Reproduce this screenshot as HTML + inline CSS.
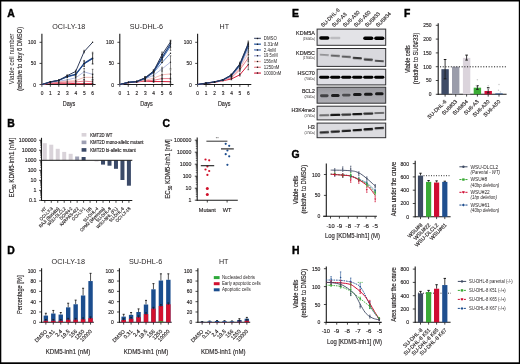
<!DOCTYPE html><html><head><meta charset="utf-8"><style>html,body{margin:0;padding:0;background:#fff;overflow:hidden}svg{display:block;will-change:transform;filter:blur(0.4px)}text{stroke:#231f20;stroke-width:0.15px;font-family:"Liberation Sans", sans-serif}.ns{stroke:none}</style></head><body>
<svg width="520" height="364" viewBox="0 0 520 364" fill="#231f20">
<defs><filter id="bl" x="-50%" y="-100%" width="200%" height="300%"><feGaussianBlur stdDeviation="0.45"/></filter><linearGradient id="gb" x1="0" y1="0" x2="0" y2="1"><stop offset="0" stop-color="#98989e"/><stop offset="0.45" stop-color="#a6a6ac"/><stop offset="1" stop-color="#aeaeb4"/></linearGradient></defs>
<rect x="0" y="0" width="520" height="364" fill="#fff"/>
<text x="7.3" y="16.9" font-size="10.4" font-weight="bold" fill="#000" style="stroke:#000;stroke-width:0.4px">A</text>
<text x="52.2" y="28.86" font-size="8" textLength="33" lengthAdjust="spacingAndGlyphs" class="ns">OCI-LY-18</text>
<line x1="41.9" y1="33.8" x2="41.9" y2="85" stroke="#1a1a1a" stroke-width="1.1"/>
<line x1="41.4" y1="84.5" x2="95.6" y2="84.5" stroke="#1a1a1a" stroke-width="1.1"/>
<line x1="39.5" y1="84.5" x2="41.9" y2="84.5" stroke="#1a1a1a" stroke-width="0.8"/>
<text x="36.1" y="86.5" font-size="5.8" text-anchor="end" textLength="2.8" lengthAdjust="spacingAndGlyphs">0</text>
<line x1="39.5" y1="63.4" x2="41.9" y2="63.4" stroke="#1a1a1a" stroke-width="0.8"/>
<text x="36.1" y="65.4" font-size="5.8" text-anchor="end" textLength="5.3" lengthAdjust="spacingAndGlyphs">50</text>
<line x1="39.5" y1="42.3" x2="41.9" y2="42.3" stroke="#1a1a1a" stroke-width="0.8"/>
<text x="36.1" y="44.3" font-size="5.8" text-anchor="end" textLength="8" lengthAdjust="spacingAndGlyphs">100</text>
<line x1="41.9" y1="84.5" x2="41.9" y2="86.8" stroke="#1a1a1a" stroke-width="0.8"/>
<text x="42" y="95.35" font-size="5.8" text-anchor="middle" textLength="2.7" lengthAdjust="spacingAndGlyphs">0</text>
<line x1="50.35" y1="84.5" x2="50.35" y2="86.8" stroke="#1a1a1a" stroke-width="0.8"/>
<text x="50.45" y="95.35" font-size="5.8" text-anchor="middle" textLength="2.7" lengthAdjust="spacingAndGlyphs">1</text>
<line x1="58.8" y1="84.5" x2="58.8" y2="86.8" stroke="#1a1a1a" stroke-width="0.8"/>
<text x="58.9" y="95.35" font-size="5.8" text-anchor="middle" textLength="2.7" lengthAdjust="spacingAndGlyphs">2</text>
<line x1="67.25" y1="84.5" x2="67.25" y2="86.8" stroke="#1a1a1a" stroke-width="0.8"/>
<text x="67.35" y="95.35" font-size="5.8" text-anchor="middle" textLength="2.7" lengthAdjust="spacingAndGlyphs">3</text>
<line x1="75.7" y1="84.5" x2="75.7" y2="86.8" stroke="#1a1a1a" stroke-width="0.8"/>
<text x="75.8" y="95.35" font-size="5.8" text-anchor="middle" textLength="2.7" lengthAdjust="spacingAndGlyphs">4</text>
<line x1="84.15" y1="84.5" x2="84.15" y2="86.8" stroke="#1a1a1a" stroke-width="0.8"/>
<text x="84.25" y="95.35" font-size="5.8" text-anchor="middle" textLength="2.7" lengthAdjust="spacingAndGlyphs">5</text>
<line x1="92.6" y1="84.5" x2="92.6" y2="86.8" stroke="#1a1a1a" stroke-width="0.8"/>
<text x="92.7" y="95.35" font-size="5.8" text-anchor="middle" textLength="2.7" lengthAdjust="spacingAndGlyphs">6</text>
<text x="69.05" y="105.5" font-size="7.4" text-anchor="middle" textLength="12.5" lengthAdjust="spacingAndGlyphs">Days</text>
<line x1="84.15" y1="82.81" x2="84.15" y2="84.5" stroke="#222" stroke-width="0.55"/>
<line x1="83.35" y1="82.81" x2="84.95" y2="82.81" stroke="#222" stroke-width="0.6"/>
<line x1="83.35" y1="84.5" x2="84.95" y2="84.5" stroke="#222" stroke-width="0.6"/>
<line x1="92.6" y1="82.81" x2="92.6" y2="84.5" stroke="#222" stroke-width="0.55"/>
<line x1="91.8" y1="82.81" x2="93.4" y2="82.81" stroke="#222" stroke-width="0.6"/>
<line x1="91.8" y1="84.5" x2="93.4" y2="84.5" stroke="#222" stroke-width="0.6"/>
<polyline points="41.9,84.5 50.35,83.23 58.8,83.23 67.25,83.23 75.7,83.66 84.15,83.66 92.6,83.66" fill="none" stroke="#d4112f" stroke-width="0.95" stroke-linejoin="round"/>
<circle cx="50.35" cy="83.23" r="0.7" fill="#151515"/>
<circle cx="58.8" cy="83.23" r="0.7" fill="#151515"/>
<circle cx="67.25" cy="83.23" r="0.7" fill="#151515"/>
<circle cx="75.7" cy="83.66" r="0.7" fill="#151515"/>
<circle cx="84.15" cy="83.66" r="0.7" fill="#151515"/>
<circle cx="92.6" cy="83.66" r="0.7" fill="#151515"/>
<line x1="75.7" y1="81.12" x2="75.7" y2="82.81" stroke="#222" stroke-width="0.55"/>
<line x1="74.9" y1="81.12" x2="76.5" y2="81.12" stroke="#222" stroke-width="0.6"/>
<line x1="74.9" y1="82.81" x2="76.5" y2="82.81" stroke="#222" stroke-width="0.6"/>
<line x1="84.15" y1="79.44" x2="84.15" y2="82.81" stroke="#222" stroke-width="0.55"/>
<line x1="83.35" y1="79.44" x2="84.95" y2="79.44" stroke="#222" stroke-width="0.6"/>
<line x1="83.35" y1="82.81" x2="84.95" y2="82.81" stroke="#222" stroke-width="0.6"/>
<line x1="92.6" y1="79.69" x2="92.6" y2="83.91" stroke="#222" stroke-width="0.55"/>
<line x1="91.8" y1="79.69" x2="93.4" y2="79.69" stroke="#222" stroke-width="0.6"/>
<line x1="91.8" y1="83.91" x2="93.4" y2="83.91" stroke="#222" stroke-width="0.6"/>
<polyline points="41.9,84.5 50.35,82.81 58.8,82.39 67.25,81.97 75.7,81.97 84.15,81.12 92.6,81.8" fill="none" stroke="#e4687a" stroke-width="0.85" stroke-linejoin="round"/>
<circle cx="50.35" cy="82.81" r="0.7" fill="#151515"/>
<circle cx="58.8" cy="82.39" r="0.7" fill="#151515"/>
<circle cx="67.25" cy="81.97" r="0.7" fill="#151515"/>
<circle cx="75.7" cy="81.97" r="0.7" fill="#151515"/>
<circle cx="84.15" cy="81.12" r="0.7" fill="#151515"/>
<circle cx="92.6" cy="81.8" r="0.7" fill="#151515"/>
<line x1="75.7" y1="79.86" x2="75.7" y2="81.55" stroke="#222" stroke-width="0.55"/>
<line x1="74.9" y1="79.86" x2="76.5" y2="79.86" stroke="#222" stroke-width="0.6"/>
<line x1="74.9" y1="81.55" x2="76.5" y2="81.55" stroke="#222" stroke-width="0.6"/>
<line x1="84.15" y1="74.79" x2="84.15" y2="79.86" stroke="#222" stroke-width="0.55"/>
<line x1="83.35" y1="74.79" x2="84.95" y2="74.79" stroke="#222" stroke-width="0.6"/>
<line x1="83.35" y1="79.86" x2="84.95" y2="79.86" stroke="#222" stroke-width="0.6"/>
<line x1="92.6" y1="73.95" x2="92.6" y2="80.7" stroke="#222" stroke-width="0.55"/>
<line x1="91.8" y1="73.95" x2="93.4" y2="73.95" stroke="#222" stroke-width="0.6"/>
<line x1="91.8" y1="80.7" x2="93.4" y2="80.7" stroke="#222" stroke-width="0.6"/>
<polyline points="41.9,84.5 50.35,82.39 58.8,81.55 67.25,81.12 75.7,80.7 84.15,77.33 92.6,77.33" fill="none" stroke="#f1aaa6" stroke-width="0.8" stroke-linejoin="round"/>
<circle cx="50.35" cy="82.39" r="0.7" fill="#151515"/>
<circle cx="58.8" cy="81.55" r="0.7" fill="#151515"/>
<circle cx="67.25" cy="81.12" r="0.7" fill="#151515"/>
<circle cx="75.7" cy="80.7" r="0.7" fill="#151515"/>
<circle cx="84.15" cy="77.33" r="0.7" fill="#151515"/>
<circle cx="92.6" cy="77.33" r="0.7" fill="#151515"/>
<line x1="75.7" y1="76.48" x2="75.7" y2="79.01" stroke="#222" stroke-width="0.55"/>
<line x1="74.9" y1="76.48" x2="76.5" y2="76.48" stroke="#222" stroke-width="0.6"/>
<line x1="74.9" y1="79.01" x2="76.5" y2="79.01" stroke="#222" stroke-width="0.6"/>
<line x1="84.15" y1="68.46" x2="84.15" y2="75.22" stroke="#222" stroke-width="0.55"/>
<line x1="83.35" y1="68.46" x2="84.95" y2="68.46" stroke="#222" stroke-width="0.6"/>
<line x1="83.35" y1="75.22" x2="84.95" y2="75.22" stroke="#222" stroke-width="0.6"/>
<line x1="92.6" y1="69.31" x2="92.6" y2="79.44" stroke="#222" stroke-width="0.55"/>
<line x1="91.8" y1="69.31" x2="93.4" y2="69.31" stroke="#222" stroke-width="0.6"/>
<line x1="91.8" y1="79.44" x2="93.4" y2="79.44" stroke="#222" stroke-width="0.6"/>
<polyline points="41.9,84.5 50.35,82.39 58.8,81.12 67.25,79.86 75.7,77.75 84.15,71.84 92.6,74.37" fill="none" stroke="#9faad8" stroke-width="0.8" stroke-linejoin="round"/>
<circle cx="50.35" cy="82.39" r="0.7" fill="#151515"/>
<circle cx="58.8" cy="81.12" r="0.7" fill="#151515"/>
<circle cx="67.25" cy="79.86" r="0.7" fill="#151515"/>
<circle cx="75.7" cy="77.75" r="0.7" fill="#151515"/>
<circle cx="84.15" cy="71.84" r="0.7" fill="#151515"/>
<circle cx="92.6" cy="74.37" r="0.7" fill="#151515"/>
<line x1="67.25" y1="76.06" x2="67.25" y2="77.75" stroke="#222" stroke-width="0.55"/>
<line x1="66.45" y1="76.06" x2="68.05" y2="76.06" stroke="#222" stroke-width="0.6"/>
<line x1="66.45" y1="77.75" x2="68.05" y2="77.75" stroke="#222" stroke-width="0.6"/>
<line x1="75.7" y1="73.53" x2="75.7" y2="76.06" stroke="#222" stroke-width="0.55"/>
<line x1="74.9" y1="73.53" x2="76.5" y2="73.53" stroke="#222" stroke-width="0.6"/>
<line x1="74.9" y1="76.06" x2="76.5" y2="76.06" stroke="#222" stroke-width="0.6"/>
<line x1="84.15" y1="61.29" x2="84.15" y2="66.35" stroke="#222" stroke-width="0.55"/>
<line x1="83.35" y1="61.29" x2="84.95" y2="61.29" stroke="#222" stroke-width="0.6"/>
<line x1="83.35" y1="66.35" x2="84.95" y2="66.35" stroke="#222" stroke-width="0.6"/>
<line x1="92.6" y1="53.69" x2="92.6" y2="63.82" stroke="#222" stroke-width="0.55"/>
<line x1="91.8" y1="53.69" x2="93.4" y2="53.69" stroke="#222" stroke-width="0.6"/>
<line x1="91.8" y1="63.82" x2="93.4" y2="63.82" stroke="#222" stroke-width="0.6"/>
<polyline points="41.9,84.5 50.35,81.97 58.8,80.28 67.25,76.9 75.7,74.79 84.15,63.82 92.6,58.76" fill="none" stroke="#3763a8" stroke-width="0.9" stroke-linejoin="round"/>
<circle cx="50.35" cy="81.97" r="0.7" fill="#151515"/>
<circle cx="58.8" cy="80.28" r="0.7" fill="#151515"/>
<circle cx="67.25" cy="76.9" r="0.7" fill="#151515"/>
<circle cx="75.7" cy="74.79" r="0.7" fill="#151515"/>
<circle cx="84.15" cy="63.82" r="0.7" fill="#151515"/>
<circle cx="92.6" cy="58.76" r="0.7" fill="#151515"/>
<line x1="67.25" y1="75.64" x2="67.25" y2="77.33" stroke="#222" stroke-width="0.55"/>
<line x1="66.45" y1="75.64" x2="68.05" y2="75.64" stroke="#222" stroke-width="0.6"/>
<line x1="66.45" y1="77.33" x2="68.05" y2="77.33" stroke="#222" stroke-width="0.6"/>
<line x1="75.7" y1="72.68" x2="75.7" y2="76.06" stroke="#222" stroke-width="0.55"/>
<line x1="74.9" y1="72.68" x2="76.5" y2="72.68" stroke="#222" stroke-width="0.6"/>
<line x1="74.9" y1="76.06" x2="76.5" y2="76.06" stroke="#222" stroke-width="0.6"/>
<line x1="84.15" y1="60.45" x2="84.15" y2="66.35" stroke="#222" stroke-width="0.55"/>
<line x1="83.35" y1="60.45" x2="84.95" y2="60.45" stroke="#222" stroke-width="0.6"/>
<line x1="83.35" y1="66.35" x2="84.95" y2="66.35" stroke="#222" stroke-width="0.6"/>
<line x1="92.6" y1="52.22" x2="92.6" y2="64.03" stroke="#222" stroke-width="0.55"/>
<line x1="91.8" y1="52.22" x2="93.4" y2="52.22" stroke="#222" stroke-width="0.6"/>
<line x1="91.8" y1="64.03" x2="93.4" y2="64.03" stroke="#222" stroke-width="0.6"/>
<polyline points="41.9,84.5 50.35,81.97 58.8,80.28 67.25,76.48 75.7,74.37 84.15,63.4 92.6,58.12" fill="none" stroke="#1d4384" stroke-width="1.25" stroke-linejoin="round"/>
<circle cx="50.35" cy="81.97" r="0.7" fill="#151515"/>
<circle cx="58.8" cy="80.28" r="0.7" fill="#151515"/>
<circle cx="67.25" cy="76.48" r="0.7" fill="#151515"/>
<circle cx="75.7" cy="74.37" r="0.7" fill="#151515"/>
<circle cx="84.15" cy="63.4" r="0.7" fill="#151515"/>
<circle cx="92.6" cy="58.12" r="0.7" fill="#151515"/>
<line x1="67.25" y1="74.79" x2="67.25" y2="76.48" stroke="#222" stroke-width="0.55"/>
<line x1="66.45" y1="74.79" x2="68.05" y2="74.79" stroke="#222" stroke-width="0.6"/>
<line x1="66.45" y1="76.48" x2="68.05" y2="76.48" stroke="#222" stroke-width="0.6"/>
<line x1="75.7" y1="70.15" x2="75.7" y2="72.68" stroke="#222" stroke-width="0.55"/>
<line x1="74.9" y1="70.15" x2="76.5" y2="70.15" stroke="#222" stroke-width="0.6"/>
<line x1="74.9" y1="72.68" x2="76.5" y2="72.68" stroke="#222" stroke-width="0.6"/>
<line x1="84.15" y1="50.32" x2="84.15" y2="52.85" stroke="#222" stroke-width="0.55"/>
<line x1="83.35" y1="50.32" x2="84.95" y2="50.32" stroke="#222" stroke-width="0.6"/>
<line x1="83.35" y1="52.85" x2="84.95" y2="52.85" stroke="#222" stroke-width="0.6"/>
<polyline points="41.9,84.5 50.35,81.97 58.8,80.28 67.25,75.64 75.7,71.42 84.15,51.58 92.6,42.3" fill="none" stroke="#283452" stroke-width="0.95" stroke-linejoin="round"/>
<circle cx="50.35" cy="81.97" r="0.7" fill="#151515"/>
<circle cx="58.8" cy="80.28" r="0.7" fill="#151515"/>
<circle cx="67.25" cy="75.64" r="0.7" fill="#151515"/>
<circle cx="75.7" cy="71.42" r="0.7" fill="#151515"/>
<circle cx="84.15" cy="51.58" r="0.7" fill="#151515"/>
<circle cx="92.6" cy="42.3" r="0.7" fill="#151515"/>
<text x="129.8" y="28.86" font-size="8" textLength="33.3" lengthAdjust="spacingAndGlyphs" class="ns">SU-DHL-6</text>
<line x1="119.8" y1="33.8" x2="119.8" y2="85" stroke="#1a1a1a" stroke-width="1.1"/>
<line x1="119.3" y1="84.5" x2="173.5" y2="84.5" stroke="#1a1a1a" stroke-width="1.1"/>
<line x1="117.4" y1="84.5" x2="119.8" y2="84.5" stroke="#1a1a1a" stroke-width="0.8"/>
<text x="114" y="86.5" font-size="5.8" text-anchor="end" textLength="2.8" lengthAdjust="spacingAndGlyphs">0</text>
<line x1="117.4" y1="63.4" x2="119.8" y2="63.4" stroke="#1a1a1a" stroke-width="0.8"/>
<text x="114" y="65.4" font-size="5.8" text-anchor="end" textLength="5.3" lengthAdjust="spacingAndGlyphs">50</text>
<line x1="117.4" y1="42.3" x2="119.8" y2="42.3" stroke="#1a1a1a" stroke-width="0.8"/>
<text x="114" y="44.3" font-size="5.8" text-anchor="end" textLength="8" lengthAdjust="spacingAndGlyphs">100</text>
<line x1="119.8" y1="84.5" x2="119.8" y2="86.8" stroke="#1a1a1a" stroke-width="0.8"/>
<text x="119.9" y="95.35" font-size="5.8" text-anchor="middle" textLength="2.7" lengthAdjust="spacingAndGlyphs">0</text>
<line x1="128.25" y1="84.5" x2="128.25" y2="86.8" stroke="#1a1a1a" stroke-width="0.8"/>
<text x="128.35" y="95.35" font-size="5.8" text-anchor="middle" textLength="2.7" lengthAdjust="spacingAndGlyphs">1</text>
<line x1="136.7" y1="84.5" x2="136.7" y2="86.8" stroke="#1a1a1a" stroke-width="0.8"/>
<text x="136.8" y="95.35" font-size="5.8" text-anchor="middle" textLength="2.7" lengthAdjust="spacingAndGlyphs">2</text>
<line x1="145.15" y1="84.5" x2="145.15" y2="86.8" stroke="#1a1a1a" stroke-width="0.8"/>
<text x="145.25" y="95.35" font-size="5.8" text-anchor="middle" textLength="2.7" lengthAdjust="spacingAndGlyphs">3</text>
<line x1="153.6" y1="84.5" x2="153.6" y2="86.8" stroke="#1a1a1a" stroke-width="0.8"/>
<text x="153.7" y="95.35" font-size="5.8" text-anchor="middle" textLength="2.7" lengthAdjust="spacingAndGlyphs">4</text>
<line x1="162.05" y1="84.5" x2="162.05" y2="86.8" stroke="#1a1a1a" stroke-width="0.8"/>
<text x="162.15" y="95.35" font-size="5.8" text-anchor="middle" textLength="2.7" lengthAdjust="spacingAndGlyphs">5</text>
<line x1="170.5" y1="84.5" x2="170.5" y2="86.8" stroke="#1a1a1a" stroke-width="0.8"/>
<text x="170.6" y="95.35" font-size="5.8" text-anchor="middle" textLength="2.7" lengthAdjust="spacingAndGlyphs">6</text>
<text x="146.5" y="105.5" font-size="7.4" text-anchor="middle" textLength="12.5" lengthAdjust="spacingAndGlyphs">Days</text>
<line x1="153.6" y1="80.7" x2="153.6" y2="82.39" stroke="#222" stroke-width="0.55"/>
<line x1="152.8" y1="80.7" x2="154.4" y2="80.7" stroke="#222" stroke-width="0.6"/>
<line x1="152.8" y1="82.39" x2="154.4" y2="82.39" stroke="#222" stroke-width="0.6"/>
<line x1="162.05" y1="79.44" x2="162.05" y2="83.66" stroke="#222" stroke-width="0.55"/>
<line x1="161.25" y1="79.44" x2="162.85" y2="79.44" stroke="#222" stroke-width="0.6"/>
<line x1="161.25" y1="83.66" x2="162.85" y2="83.66" stroke="#222" stroke-width="0.6"/>
<line x1="170.5" y1="79.6" x2="170.5" y2="83.82" stroke="#222" stroke-width="0.55"/>
<line x1="169.7" y1="79.6" x2="171.3" y2="79.6" stroke="#222" stroke-width="0.6"/>
<line x1="169.7" y1="83.82" x2="171.3" y2="83.82" stroke="#222" stroke-width="0.6"/>
<polyline points="119.8,84.5 128.25,82.81 136.7,81.97 145.15,81.12 153.6,81.55 162.05,81.55 170.5,81.71" fill="none" stroke="#d4112f" stroke-width="0.95" stroke-linejoin="round"/>
<circle cx="128.25" cy="82.81" r="0.7" fill="#151515"/>
<circle cx="136.7" cy="81.97" r="0.7" fill="#151515"/>
<circle cx="145.15" cy="81.12" r="0.7" fill="#151515"/>
<circle cx="153.6" cy="81.55" r="0.7" fill="#151515"/>
<circle cx="162.05" cy="81.55" r="0.7" fill="#151515"/>
<circle cx="170.5" cy="81.71" r="0.7" fill="#151515"/>
<line x1="145.15" y1="79.86" x2="145.15" y2="81.55" stroke="#222" stroke-width="0.55"/>
<line x1="144.35" y1="79.86" x2="145.95" y2="79.86" stroke="#222" stroke-width="0.6"/>
<line x1="144.35" y1="81.55" x2="145.95" y2="81.55" stroke="#222" stroke-width="0.6"/>
<line x1="153.6" y1="79.01" x2="153.6" y2="81.55" stroke="#222" stroke-width="0.55"/>
<line x1="152.8" y1="79.01" x2="154.4" y2="79.01" stroke="#222" stroke-width="0.6"/>
<line x1="152.8" y1="81.55" x2="154.4" y2="81.55" stroke="#222" stroke-width="0.6"/>
<line x1="162.05" y1="75.64" x2="162.05" y2="81.55" stroke="#222" stroke-width="0.55"/>
<line x1="161.25" y1="75.64" x2="162.85" y2="75.64" stroke="#222" stroke-width="0.6"/>
<line x1="161.25" y1="81.55" x2="162.85" y2="81.55" stroke="#222" stroke-width="0.6"/>
<line x1="170.5" y1="74.37" x2="170.5" y2="82.81" stroke="#222" stroke-width="0.55"/>
<line x1="169.7" y1="74.37" x2="171.3" y2="74.37" stroke="#222" stroke-width="0.6"/>
<line x1="169.7" y1="82.81" x2="171.3" y2="82.81" stroke="#222" stroke-width="0.6"/>
<polyline points="119.8,84.5 128.25,82.39 136.7,81.97 145.15,80.7 153.6,80.28 162.05,78.59 170.5,78.59" fill="none" stroke="#e4687a" stroke-width="0.85" stroke-linejoin="round"/>
<circle cx="128.25" cy="82.39" r="0.7" fill="#151515"/>
<circle cx="136.7" cy="81.97" r="0.7" fill="#151515"/>
<circle cx="145.15" cy="80.7" r="0.7" fill="#151515"/>
<circle cx="153.6" cy="80.28" r="0.7" fill="#151515"/>
<circle cx="162.05" cy="78.59" r="0.7" fill="#151515"/>
<circle cx="170.5" cy="78.59" r="0.7" fill="#151515"/>
<line x1="145.15" y1="79.44" x2="145.15" y2="81.12" stroke="#222" stroke-width="0.55"/>
<line x1="144.35" y1="79.44" x2="145.95" y2="79.44" stroke="#222" stroke-width="0.6"/>
<line x1="144.35" y1="81.12" x2="145.95" y2="81.12" stroke="#222" stroke-width="0.6"/>
<line x1="153.6" y1="76.9" x2="153.6" y2="79.44" stroke="#222" stroke-width="0.55"/>
<line x1="152.8" y1="76.9" x2="154.4" y2="76.9" stroke="#222" stroke-width="0.6"/>
<line x1="152.8" y1="79.44" x2="154.4" y2="79.44" stroke="#222" stroke-width="0.6"/>
<line x1="162.05" y1="71.42" x2="162.05" y2="78.17" stroke="#222" stroke-width="0.55"/>
<line x1="161.25" y1="71.42" x2="162.85" y2="71.42" stroke="#222" stroke-width="0.6"/>
<line x1="161.25" y1="78.17" x2="162.85" y2="78.17" stroke="#222" stroke-width="0.6"/>
<line x1="170.5" y1="69.73" x2="170.5" y2="78.17" stroke="#222" stroke-width="0.55"/>
<line x1="169.7" y1="69.73" x2="171.3" y2="69.73" stroke="#222" stroke-width="0.6"/>
<line x1="169.7" y1="78.17" x2="171.3" y2="78.17" stroke="#222" stroke-width="0.6"/>
<polyline points="119.8,84.5 128.25,82.39 136.7,81.55 145.15,80.28 153.6,78.17 162.05,74.79 170.5,73.95" fill="none" stroke="#f1aaa6" stroke-width="0.8" stroke-linejoin="round"/>
<circle cx="128.25" cy="82.39" r="0.7" fill="#151515"/>
<circle cx="136.7" cy="81.55" r="0.7" fill="#151515"/>
<circle cx="145.15" cy="80.28" r="0.7" fill="#151515"/>
<circle cx="153.6" cy="78.17" r="0.7" fill="#151515"/>
<circle cx="162.05" cy="74.79" r="0.7" fill="#151515"/>
<circle cx="170.5" cy="73.95" r="0.7" fill="#151515"/>
<line x1="145.15" y1="78.17" x2="145.15" y2="79.86" stroke="#222" stroke-width="0.55"/>
<line x1="144.35" y1="78.17" x2="145.95" y2="78.17" stroke="#222" stroke-width="0.6"/>
<line x1="144.35" y1="79.86" x2="145.95" y2="79.86" stroke="#222" stroke-width="0.6"/>
<line x1="153.6" y1="73.95" x2="153.6" y2="76.48" stroke="#222" stroke-width="0.55"/>
<line x1="152.8" y1="73.95" x2="154.4" y2="73.95" stroke="#222" stroke-width="0.6"/>
<line x1="152.8" y1="76.48" x2="154.4" y2="76.48" stroke="#222" stroke-width="0.6"/>
<line x1="162.05" y1="67.2" x2="162.05" y2="70.57" stroke="#222" stroke-width="0.55"/>
<line x1="161.25" y1="67.2" x2="162.85" y2="67.2" stroke="#222" stroke-width="0.6"/>
<line x1="161.25" y1="70.57" x2="162.85" y2="70.57" stroke="#222" stroke-width="0.6"/>
<line x1="170.5" y1="55.8" x2="170.5" y2="68.46" stroke="#222" stroke-width="0.55"/>
<line x1="169.7" y1="55.8" x2="171.3" y2="55.8" stroke="#222" stroke-width="0.6"/>
<line x1="169.7" y1="68.46" x2="171.3" y2="68.46" stroke="#222" stroke-width="0.6"/>
<polyline points="119.8,84.5 128.25,82.39 136.7,81.55 145.15,79.01 153.6,75.22 162.05,68.89 170.5,62.13" fill="none" stroke="#9faad8" stroke-width="0.8" stroke-linejoin="round"/>
<polyline points="119.8,84.5 128.25,82.39 136.7,81.55 145.15,78.59 153.6,72.68 162.05,62.56 170.5,53.27" fill="none" stroke="#4d72b6" stroke-width="0.85" stroke-linejoin="round"/>
<circle cx="128.25" cy="82.39" r="0.7" fill="#151515"/>
<circle cx="136.7" cy="81.55" r="0.7" fill="#151515"/>
<circle cx="145.15" cy="78.59" r="0.7" fill="#151515"/>
<circle cx="153.6" cy="72.68" r="0.7" fill="#151515"/>
<circle cx="162.05" cy="62.56" r="0.7" fill="#151515"/>
<circle cx="170.5" cy="53.27" r="0.7" fill="#151515"/>
<circle cx="128.25" cy="82.39" r="0.7" fill="#151515"/>
<circle cx="136.7" cy="81.55" r="0.7" fill="#151515"/>
<circle cx="145.15" cy="79.01" r="0.7" fill="#151515"/>
<circle cx="153.6" cy="75.22" r="0.7" fill="#151515"/>
<circle cx="162.05" cy="68.89" r="0.7" fill="#151515"/>
<circle cx="170.5" cy="62.13" r="0.7" fill="#151515"/>
<line x1="145.15" y1="76.9" x2="145.15" y2="79.44" stroke="#222" stroke-width="0.55"/>
<line x1="144.35" y1="76.9" x2="145.95" y2="76.9" stroke="#222" stroke-width="0.6"/>
<line x1="144.35" y1="79.44" x2="145.95" y2="79.44" stroke="#222" stroke-width="0.6"/>
<line x1="153.6" y1="70.57" x2="153.6" y2="73.11" stroke="#222" stroke-width="0.55"/>
<line x1="152.8" y1="70.57" x2="154.4" y2="70.57" stroke="#222" stroke-width="0.6"/>
<line x1="152.8" y1="73.11" x2="154.4" y2="73.11" stroke="#222" stroke-width="0.6"/>
<line x1="162.05" y1="55.8" x2="162.05" y2="62.56" stroke="#222" stroke-width="0.55"/>
<line x1="161.25" y1="55.8" x2="162.85" y2="55.8" stroke="#222" stroke-width="0.6"/>
<line x1="161.25" y1="62.56" x2="162.85" y2="62.56" stroke="#222" stroke-width="0.6"/>
<line x1="170.5" y1="41.88" x2="170.5" y2="50.32" stroke="#222" stroke-width="0.55"/>
<line x1="169.7" y1="41.88" x2="171.3" y2="41.88" stroke="#222" stroke-width="0.6"/>
<line x1="169.7" y1="50.32" x2="171.3" y2="50.32" stroke="#222" stroke-width="0.6"/>
<polyline points="119.8,84.5 128.25,82.39 136.7,81.55 145.15,78.17 153.6,71.84 162.05,59.18 170.5,46.1" fill="none" stroke="#3763a8" stroke-width="0.9" stroke-linejoin="round"/>
<circle cx="128.25" cy="82.39" r="0.7" fill="#151515"/>
<circle cx="136.7" cy="81.55" r="0.7" fill="#151515"/>
<circle cx="145.15" cy="78.17" r="0.7" fill="#151515"/>
<circle cx="153.6" cy="71.84" r="0.7" fill="#151515"/>
<circle cx="162.05" cy="59.18" r="0.7" fill="#151515"/>
<circle cx="170.5" cy="46.1" r="0.7" fill="#151515"/>
<line x1="145.15" y1="76.9" x2="145.15" y2="79.44" stroke="#222" stroke-width="0.55"/>
<line x1="144.35" y1="76.9" x2="145.95" y2="76.9" stroke="#222" stroke-width="0.6"/>
<line x1="144.35" y1="79.44" x2="145.95" y2="79.44" stroke="#222" stroke-width="0.6"/>
<line x1="153.6" y1="70.15" x2="153.6" y2="72.68" stroke="#222" stroke-width="0.55"/>
<line x1="152.8" y1="70.15" x2="154.4" y2="70.15" stroke="#222" stroke-width="0.6"/>
<line x1="152.8" y1="72.68" x2="154.4" y2="72.68" stroke="#222" stroke-width="0.6"/>
<line x1="162.05" y1="54.12" x2="162.05" y2="60.87" stroke="#222" stroke-width="0.55"/>
<line x1="161.25" y1="54.12" x2="162.85" y2="54.12" stroke="#222" stroke-width="0.6"/>
<line x1="161.25" y1="60.87" x2="162.85" y2="60.87" stroke="#222" stroke-width="0.6"/>
<line x1="170.5" y1="40.61" x2="170.5" y2="47.36" stroke="#222" stroke-width="0.55"/>
<line x1="169.7" y1="40.61" x2="171.3" y2="40.61" stroke="#222" stroke-width="0.6"/>
<line x1="169.7" y1="47.36" x2="171.3" y2="47.36" stroke="#222" stroke-width="0.6"/>
<polyline points="119.8,84.5 128.25,82.39 136.7,81.55 145.15,78.17 153.6,71.42 162.05,57.49 170.5,43.99" fill="none" stroke="#1d4384" stroke-width="1.25" stroke-linejoin="round"/>
<circle cx="128.25" cy="82.39" r="0.7" fill="#151515"/>
<circle cx="136.7" cy="81.55" r="0.7" fill="#151515"/>
<circle cx="145.15" cy="78.17" r="0.7" fill="#151515"/>
<circle cx="153.6" cy="71.42" r="0.7" fill="#151515"/>
<circle cx="162.05" cy="57.49" r="0.7" fill="#151515"/>
<circle cx="170.5" cy="43.99" r="0.7" fill="#151515"/>
<line x1="145.15" y1="76.48" x2="145.15" y2="79.01" stroke="#222" stroke-width="0.55"/>
<line x1="144.35" y1="76.48" x2="145.95" y2="76.48" stroke="#222" stroke-width="0.6"/>
<line x1="144.35" y1="79.01" x2="145.95" y2="79.01" stroke="#222" stroke-width="0.6"/>
<line x1="153.6" y1="69.73" x2="153.6" y2="72.26" stroke="#222" stroke-width="0.55"/>
<line x1="152.8" y1="69.73" x2="154.4" y2="69.73" stroke="#222" stroke-width="0.6"/>
<line x1="152.8" y1="72.26" x2="154.4" y2="72.26" stroke="#222" stroke-width="0.6"/>
<line x1="162.05" y1="52.01" x2="162.05" y2="57.07" stroke="#222" stroke-width="0.55"/>
<line x1="161.25" y1="52.01" x2="162.85" y2="52.01" stroke="#222" stroke-width="0.6"/>
<line x1="161.25" y1="57.07" x2="162.85" y2="57.07" stroke="#222" stroke-width="0.6"/>
<line x1="170.5" y1="40.19" x2="170.5" y2="43.57" stroke="#222" stroke-width="0.55"/>
<line x1="169.7" y1="40.19" x2="171.3" y2="40.19" stroke="#222" stroke-width="0.6"/>
<line x1="169.7" y1="43.57" x2="171.3" y2="43.57" stroke="#222" stroke-width="0.6"/>
<polyline points="119.8,84.5 128.25,82.39 136.7,81.55 145.15,77.75 153.6,71 162.05,54.54 170.5,41.88" fill="none" stroke="#283452" stroke-width="0.95" stroke-linejoin="round"/>
<circle cx="128.25" cy="82.39" r="0.7" fill="#151515"/>
<circle cx="136.7" cy="81.55" r="0.7" fill="#151515"/>
<circle cx="145.15" cy="77.75" r="0.7" fill="#151515"/>
<circle cx="153.6" cy="71" r="0.7" fill="#151515"/>
<circle cx="162.05" cy="54.54" r="0.7" fill="#151515"/>
<circle cx="170.5" cy="41.88" r="0.7" fill="#151515"/>
<text x="219.5" y="28.86" font-size="8" textLength="9.5" lengthAdjust="spacingAndGlyphs" class="ns">HT</text>
<line x1="197.6" y1="33.8" x2="197.6" y2="85" stroke="#1a1a1a" stroke-width="1.1"/>
<line x1="197.1" y1="84.5" x2="251.3" y2="84.5" stroke="#1a1a1a" stroke-width="1.1"/>
<line x1="195.2" y1="84.5" x2="197.6" y2="84.5" stroke="#1a1a1a" stroke-width="0.8"/>
<text x="191.8" y="86.5" font-size="5.8" text-anchor="end" textLength="2.8" lengthAdjust="spacingAndGlyphs">0</text>
<line x1="195.2" y1="63.4" x2="197.6" y2="63.4" stroke="#1a1a1a" stroke-width="0.8"/>
<text x="191.8" y="65.4" font-size="5.8" text-anchor="end" textLength="5.3" lengthAdjust="spacingAndGlyphs">50</text>
<line x1="195.2" y1="42.3" x2="197.6" y2="42.3" stroke="#1a1a1a" stroke-width="0.8"/>
<text x="191.8" y="44.3" font-size="5.8" text-anchor="end" textLength="8" lengthAdjust="spacingAndGlyphs">100</text>
<line x1="197.6" y1="84.5" x2="197.6" y2="86.8" stroke="#1a1a1a" stroke-width="0.8"/>
<text x="197.7" y="95.35" font-size="5.8" text-anchor="middle" textLength="2.7" lengthAdjust="spacingAndGlyphs">0</text>
<line x1="206.05" y1="84.5" x2="206.05" y2="86.8" stroke="#1a1a1a" stroke-width="0.8"/>
<text x="206.15" y="95.35" font-size="5.8" text-anchor="middle" textLength="2.7" lengthAdjust="spacingAndGlyphs">1</text>
<line x1="214.5" y1="84.5" x2="214.5" y2="86.8" stroke="#1a1a1a" stroke-width="0.8"/>
<text x="214.6" y="95.35" font-size="5.8" text-anchor="middle" textLength="2.7" lengthAdjust="spacingAndGlyphs">2</text>
<line x1="222.95" y1="84.5" x2="222.95" y2="86.8" stroke="#1a1a1a" stroke-width="0.8"/>
<text x="223.05" y="95.35" font-size="5.8" text-anchor="middle" textLength="2.7" lengthAdjust="spacingAndGlyphs">3</text>
<line x1="231.4" y1="84.5" x2="231.4" y2="86.8" stroke="#1a1a1a" stroke-width="0.8"/>
<text x="231.5" y="95.35" font-size="5.8" text-anchor="middle" textLength="2.7" lengthAdjust="spacingAndGlyphs">4</text>
<line x1="239.85" y1="84.5" x2="239.85" y2="86.8" stroke="#1a1a1a" stroke-width="0.8"/>
<text x="239.95" y="95.35" font-size="5.8" text-anchor="middle" textLength="2.7" lengthAdjust="spacingAndGlyphs">5</text>
<line x1="248.3" y1="84.5" x2="248.3" y2="86.8" stroke="#1a1a1a" stroke-width="0.8"/>
<text x="248.4" y="95.35" font-size="5.8" text-anchor="middle" textLength="2.7" lengthAdjust="spacingAndGlyphs">6</text>
<text x="224.15" y="105.5" font-size="7.4" text-anchor="middle" textLength="12.5" lengthAdjust="spacingAndGlyphs">Days</text>
<line x1="231.4" y1="78.17" x2="231.4" y2="79.86" stroke="#222" stroke-width="0.55"/>
<line x1="230.6" y1="78.17" x2="232.2" y2="78.17" stroke="#222" stroke-width="0.6"/>
<line x1="230.6" y1="79.86" x2="232.2" y2="79.86" stroke="#222" stroke-width="0.6"/>
<line x1="239.85" y1="73.53" x2="239.85" y2="76.06" stroke="#222" stroke-width="0.55"/>
<line x1="239.05" y1="73.53" x2="240.65" y2="73.53" stroke="#222" stroke-width="0.6"/>
<line x1="239.05" y1="76.06" x2="240.65" y2="76.06" stroke="#222" stroke-width="0.6"/>
<line x1="248.3" y1="59.6" x2="248.3" y2="69.73" stroke="#222" stroke-width="0.55"/>
<line x1="247.5" y1="59.6" x2="249.1" y2="59.6" stroke="#222" stroke-width="0.6"/>
<line x1="247.5" y1="69.73" x2="249.1" y2="69.73" stroke="#222" stroke-width="0.6"/>
<polyline points="197.6,84.5 206.05,83.23 214.5,82.39 222.95,80.7 231.4,79.01 239.85,74.79 248.3,64.67" fill="none" stroke="#d4112f" stroke-width="0.95" stroke-linejoin="round"/>
<circle cx="206.05" cy="83.23" r="0.7" fill="#151515"/>
<circle cx="214.5" cy="82.39" r="0.7" fill="#151515"/>
<circle cx="222.95" cy="80.7" r="0.7" fill="#151515"/>
<circle cx="231.4" cy="79.01" r="0.7" fill="#151515"/>
<circle cx="239.85" cy="74.79" r="0.7" fill="#151515"/>
<circle cx="248.3" cy="64.67" r="0.7" fill="#151515"/>
<line x1="231.4" y1="76.9" x2="231.4" y2="78.59" stroke="#222" stroke-width="0.55"/>
<line x1="230.6" y1="76.9" x2="232.2" y2="76.9" stroke="#222" stroke-width="0.6"/>
<line x1="230.6" y1="78.59" x2="232.2" y2="78.59" stroke="#222" stroke-width="0.6"/>
<line x1="239.85" y1="67.62" x2="239.85" y2="71.84" stroke="#222" stroke-width="0.55"/>
<line x1="239.05" y1="67.62" x2="240.65" y2="67.62" stroke="#222" stroke-width="0.6"/>
<line x1="239.05" y1="71.84" x2="240.65" y2="71.84" stroke="#222" stroke-width="0.6"/>
<line x1="248.3" y1="54.54" x2="248.3" y2="61.29" stroke="#222" stroke-width="0.55"/>
<line x1="247.5" y1="54.54" x2="249.1" y2="54.54" stroke="#222" stroke-width="0.6"/>
<line x1="247.5" y1="61.29" x2="249.1" y2="61.29" stroke="#222" stroke-width="0.6"/>
<polyline points="197.6,84.5 206.05,83.23 214.5,81.97 222.95,80.28 231.4,77.75 239.85,69.73 248.3,57.91" fill="none" stroke="#e4687a" stroke-width="0.85" stroke-linejoin="round"/>
<circle cx="206.05" cy="83.23" r="0.7" fill="#151515"/>
<circle cx="214.5" cy="81.97" r="0.7" fill="#151515"/>
<circle cx="222.95" cy="80.28" r="0.7" fill="#151515"/>
<circle cx="231.4" cy="77.75" r="0.7" fill="#151515"/>
<circle cx="239.85" cy="69.73" r="0.7" fill="#151515"/>
<circle cx="248.3" cy="57.91" r="0.7" fill="#151515"/>
<line x1="231.4" y1="76.06" x2="231.4" y2="77.75" stroke="#222" stroke-width="0.55"/>
<line x1="230.6" y1="76.06" x2="232.2" y2="76.06" stroke="#222" stroke-width="0.6"/>
<line x1="230.6" y1="77.75" x2="232.2" y2="77.75" stroke="#222" stroke-width="0.6"/>
<line x1="239.85" y1="66.78" x2="239.85" y2="70.15" stroke="#222" stroke-width="0.55"/>
<line x1="239.05" y1="66.78" x2="240.65" y2="66.78" stroke="#222" stroke-width="0.6"/>
<line x1="239.05" y1="70.15" x2="240.65" y2="70.15" stroke="#222" stroke-width="0.6"/>
<line x1="248.3" y1="50.74" x2="248.3" y2="54.96" stroke="#222" stroke-width="0.55"/>
<line x1="247.5" y1="50.74" x2="249.1" y2="50.74" stroke="#222" stroke-width="0.6"/>
<line x1="247.5" y1="54.96" x2="249.1" y2="54.96" stroke="#222" stroke-width="0.6"/>
<polyline points="197.6,84.5 206.05,83.23 214.5,81.97 222.95,80.28 231.4,76.9 239.85,68.46 248.3,52.85" fill="none" stroke="#f1aaa6" stroke-width="0.8" stroke-linejoin="round"/>
<circle cx="206.05" cy="83.23" r="0.7" fill="#151515"/>
<circle cx="214.5" cy="81.97" r="0.7" fill="#151515"/>
<circle cx="222.95" cy="80.28" r="0.7" fill="#151515"/>
<circle cx="231.4" cy="76.9" r="0.7" fill="#151515"/>
<circle cx="239.85" cy="68.46" r="0.7" fill="#151515"/>
<circle cx="248.3" cy="52.85" r="0.7" fill="#151515"/>
<line x1="231.4" y1="75.22" x2="231.4" y2="76.9" stroke="#222" stroke-width="0.55"/>
<line x1="230.6" y1="75.22" x2="232.2" y2="75.22" stroke="#222" stroke-width="0.6"/>
<line x1="230.6" y1="76.9" x2="232.2" y2="76.9" stroke="#222" stroke-width="0.6"/>
<line x1="239.85" y1="65.09" x2="239.85" y2="68.46" stroke="#222" stroke-width="0.55"/>
<line x1="239.05" y1="65.09" x2="240.65" y2="65.09" stroke="#222" stroke-width="0.6"/>
<line x1="239.05" y1="68.46" x2="240.65" y2="68.46" stroke="#222" stroke-width="0.6"/>
<line x1="248.3" y1="46.94" x2="248.3" y2="51.16" stroke="#222" stroke-width="0.55"/>
<line x1="247.5" y1="46.94" x2="249.1" y2="46.94" stroke="#222" stroke-width="0.6"/>
<line x1="247.5" y1="51.16" x2="249.1" y2="51.16" stroke="#222" stroke-width="0.6"/>
<polyline points="197.6,84.5 206.05,83.23 214.5,81.97 222.95,80.28 231.4,76.06 239.85,66.78 248.3,49.05" fill="none" stroke="#9faad8" stroke-width="0.8" stroke-linejoin="round"/>
<circle cx="206.05" cy="83.23" r="0.7" fill="#151515"/>
<circle cx="214.5" cy="81.97" r="0.7" fill="#151515"/>
<circle cx="222.95" cy="80.28" r="0.7" fill="#151515"/>
<circle cx="231.4" cy="76.06" r="0.7" fill="#151515"/>
<circle cx="239.85" cy="66.78" r="0.7" fill="#151515"/>
<circle cx="248.3" cy="49.05" r="0.7" fill="#151515"/>
<line x1="231.4" y1="74.79" x2="231.4" y2="76.48" stroke="#222" stroke-width="0.55"/>
<line x1="230.6" y1="74.79" x2="232.2" y2="74.79" stroke="#222" stroke-width="0.6"/>
<line x1="230.6" y1="76.48" x2="232.2" y2="76.48" stroke="#222" stroke-width="0.6"/>
<line x1="239.85" y1="63.82" x2="239.85" y2="67.2" stroke="#222" stroke-width="0.55"/>
<line x1="239.05" y1="63.82" x2="240.65" y2="63.82" stroke="#222" stroke-width="0.6"/>
<line x1="239.05" y1="67.2" x2="240.65" y2="67.2" stroke="#222" stroke-width="0.6"/>
<line x1="248.3" y1="43.99" x2="248.3" y2="48.21" stroke="#222" stroke-width="0.55"/>
<line x1="247.5" y1="43.99" x2="249.1" y2="43.99" stroke="#222" stroke-width="0.6"/>
<line x1="247.5" y1="48.21" x2="249.1" y2="48.21" stroke="#222" stroke-width="0.6"/>
<polyline points="197.6,84.5 206.05,83.23 214.5,81.97 222.95,79.86 231.4,75.64 239.85,65.51 248.3,46.1" fill="none" stroke="#3763a8" stroke-width="0.9" stroke-linejoin="round"/>
<circle cx="206.05" cy="83.23" r="0.7" fill="#151515"/>
<circle cx="214.5" cy="81.97" r="0.7" fill="#151515"/>
<circle cx="222.95" cy="79.86" r="0.7" fill="#151515"/>
<circle cx="231.4" cy="75.64" r="0.7" fill="#151515"/>
<circle cx="239.85" cy="65.51" r="0.7" fill="#151515"/>
<circle cx="248.3" cy="46.1" r="0.7" fill="#151515"/>
<line x1="231.4" y1="74.37" x2="231.4" y2="76.06" stroke="#222" stroke-width="0.55"/>
<line x1="230.6" y1="74.37" x2="232.2" y2="74.37" stroke="#222" stroke-width="0.6"/>
<line x1="230.6" y1="76.06" x2="232.2" y2="76.06" stroke="#222" stroke-width="0.6"/>
<line x1="239.85" y1="62.98" x2="239.85" y2="66.35" stroke="#222" stroke-width="0.55"/>
<line x1="239.05" y1="62.98" x2="240.65" y2="62.98" stroke="#222" stroke-width="0.6"/>
<line x1="239.05" y1="66.35" x2="240.65" y2="66.35" stroke="#222" stroke-width="0.6"/>
<line x1="248.3" y1="42.3" x2="248.3" y2="46.52" stroke="#222" stroke-width="0.55"/>
<line x1="247.5" y1="42.3" x2="249.1" y2="42.3" stroke="#222" stroke-width="0.6"/>
<line x1="247.5" y1="46.52" x2="249.1" y2="46.52" stroke="#222" stroke-width="0.6"/>
<polyline points="197.6,84.5 206.05,83.23 214.5,81.97 222.95,79.86 231.4,75.22 239.85,64.67 248.3,44.41" fill="none" stroke="#1d4384" stroke-width="1.25" stroke-linejoin="round"/>
<circle cx="206.05" cy="83.23" r="0.7" fill="#151515"/>
<circle cx="214.5" cy="81.97" r="0.7" fill="#151515"/>
<circle cx="222.95" cy="79.86" r="0.7" fill="#151515"/>
<circle cx="231.4" cy="75.22" r="0.7" fill="#151515"/>
<circle cx="239.85" cy="64.67" r="0.7" fill="#151515"/>
<circle cx="248.3" cy="44.41" r="0.7" fill="#151515"/>
<line x1="231.4" y1="73.95" x2="231.4" y2="75.64" stroke="#222" stroke-width="0.55"/>
<line x1="230.6" y1="73.95" x2="232.2" y2="73.95" stroke="#222" stroke-width="0.6"/>
<line x1="230.6" y1="75.64" x2="232.2" y2="75.64" stroke="#222" stroke-width="0.6"/>
<line x1="239.85" y1="62.13" x2="239.85" y2="65.51" stroke="#222" stroke-width="0.55"/>
<line x1="239.05" y1="62.13" x2="240.65" y2="62.13" stroke="#222" stroke-width="0.6"/>
<line x1="239.05" y1="65.51" x2="240.65" y2="65.51" stroke="#222" stroke-width="0.6"/>
<line x1="248.3" y1="41.03" x2="248.3" y2="45.25" stroke="#222" stroke-width="0.55"/>
<line x1="247.5" y1="41.03" x2="249.1" y2="41.03" stroke="#222" stroke-width="0.6"/>
<line x1="247.5" y1="45.25" x2="249.1" y2="45.25" stroke="#222" stroke-width="0.6"/>
<polyline points="197.6,84.5 206.05,83.23 214.5,81.97 222.95,79.86 231.4,74.79 239.85,63.82 248.3,43.14" fill="none" stroke="#283452" stroke-width="0.95" stroke-linejoin="round"/>
<circle cx="206.05" cy="83.23" r="0.7" fill="#151515"/>
<circle cx="214.5" cy="81.97" r="0.7" fill="#151515"/>
<circle cx="222.95" cy="79.86" r="0.7" fill="#151515"/>
<circle cx="231.4" cy="74.79" r="0.7" fill="#151515"/>
<circle cx="239.85" cy="63.82" r="0.7" fill="#151515"/>
<circle cx="248.3" cy="43.14" r="0.7" fill="#151515"/>
<text x="10.9" y="61.69" font-size="7.8" text-anchor="middle" textLength="50.5" lengthAdjust="spacingAndGlyphs" transform="rotate(-90 10.9 59)" class="ns">Viable cell number</text>
<text x="18.9" y="61.49" font-size="7.8" text-anchor="middle" textLength="64" lengthAdjust="spacingAndGlyphs" transform="rotate(-90 18.9 58.8)">(relative to day 6 DMSO)</text>
<line x1="254.1" y1="38.4" x2="260.9" y2="38.4" stroke="#5c6580" stroke-width="1.3"/>
<circle cx="257.5" cy="38.4" r="0.75" fill="#151515"/>
<text x="263.8" y="40.02" font-size="4.7" textLength="13" lengthAdjust="spacingAndGlyphs" class="ns">DMSO</text>
<line x1="254.1" y1="44.18" x2="260.9" y2="44.18" stroke="#2f5ea5" stroke-width="1.3"/>
<circle cx="257.5" cy="44.18" r="0.75" fill="#151515"/>
<text x="263.8" y="45.8" font-size="4.7" textLength="14.7" lengthAdjust="spacingAndGlyphs" class="ns">0.31nM</text>
<line x1="254.1" y1="49.96" x2="260.9" y2="49.96" stroke="#4a6fb4" stroke-width="1.3"/>
<circle cx="257.5" cy="49.96" r="0.75" fill="#151515"/>
<text x="263.8" y="51.58" font-size="4.7" textLength="12.1" lengthAdjust="spacingAndGlyphs" class="ns">2.4nM</text>
<line x1="254.1" y1="55.74" x2="260.9" y2="55.74" stroke="#aab3dd" stroke-width="1.3"/>
<circle cx="257.5" cy="55.74" r="0.75" fill="#151515"/>
<text x="263.8" y="57.36" font-size="4.7" textLength="13.9" lengthAdjust="spacingAndGlyphs" class="ns">19.5nM</text>
<line x1="254.1" y1="61.52" x2="260.9" y2="61.52" stroke="#f3b6b2" stroke-width="1.3"/>
<circle cx="257.5" cy="61.52" r="0.75" fill="#151515"/>
<text x="263.8" y="63.14" font-size="4.7" textLength="13.2" lengthAdjust="spacingAndGlyphs" class="ns">156nM</text>
<line x1="254.1" y1="67.3" x2="260.9" y2="67.3" stroke="#ea8890" stroke-width="1.3"/>
<circle cx="257.5" cy="67.3" r="0.75" fill="#151515"/>
<text x="263.8" y="68.92" font-size="4.7" textLength="15.7" lengthAdjust="spacingAndGlyphs" class="ns">1250nM</text>
<line x1="254.1" y1="73.08" x2="260.9" y2="73.08" stroke="#dc3550" stroke-width="1.3"/>
<circle cx="257.5" cy="73.08" r="0.75" fill="#151515"/>
<text x="263.8" y="74.7" font-size="4.7" textLength="17.5" lengthAdjust="spacingAndGlyphs" class="ns">10000nM</text>
<text x="7.3" y="127.1" font-size="10.4" font-weight="bold" fill="#000" style="stroke:#000;stroke-width:0.4px">B</text>
<line x1="41.5" y1="137.8" x2="41.5" y2="200.9" stroke="#1a1a1a" stroke-width="1.1"/>
<line x1="39.1" y1="140.26" x2="41.5" y2="140.26" stroke="#1a1a1a" stroke-width="0.8"/>
<text x="36.5" y="142.19" font-size="5.6" text-anchor="end" textLength="17.7" lengthAdjust="spacingAndGlyphs">100000</text>
<line x1="39.1" y1="150.28" x2="41.5" y2="150.28" stroke="#1a1a1a" stroke-width="0.8"/>
<text x="36.5" y="152.21" font-size="5.6" text-anchor="end" textLength="14.75" lengthAdjust="spacingAndGlyphs">10000</text>
<line x1="40.1" y1="147.26" x2="41.5" y2="147.26" stroke="#1a1a1a" stroke-width="0.55"/>
<line x1="40.1" y1="145.5" x2="41.5" y2="145.5" stroke="#1a1a1a" stroke-width="0.55"/>
<line x1="40.1" y1="144.25" x2="41.5" y2="144.25" stroke="#1a1a1a" stroke-width="0.55"/>
<line x1="40.1" y1="143.28" x2="41.5" y2="143.28" stroke="#1a1a1a" stroke-width="0.55"/>
<line x1="40.1" y1="142.48" x2="41.5" y2="142.48" stroke="#1a1a1a" stroke-width="0.55"/>
<line x1="40.1" y1="141.81" x2="41.5" y2="141.81" stroke="#1a1a1a" stroke-width="0.55"/>
<line x1="40.1" y1="141.23" x2="41.5" y2="141.23" stroke="#1a1a1a" stroke-width="0.55"/>
<line x1="40.1" y1="140.72" x2="41.5" y2="140.72" stroke="#1a1a1a" stroke-width="0.55"/>
<line x1="39.1" y1="160.3" x2="41.5" y2="160.3" stroke="#1a1a1a" stroke-width="0.8"/>
<text x="36.5" y="162.23" font-size="5.6" text-anchor="end" textLength="11.8" lengthAdjust="spacingAndGlyphs">1000</text>
<line x1="40.1" y1="157.28" x2="41.5" y2="157.28" stroke="#1a1a1a" stroke-width="0.55"/>
<line x1="40.1" y1="155.52" x2="41.5" y2="155.52" stroke="#1a1a1a" stroke-width="0.55"/>
<line x1="40.1" y1="154.27" x2="41.5" y2="154.27" stroke="#1a1a1a" stroke-width="0.55"/>
<line x1="40.1" y1="153.3" x2="41.5" y2="153.3" stroke="#1a1a1a" stroke-width="0.55"/>
<line x1="40.1" y1="152.5" x2="41.5" y2="152.5" stroke="#1a1a1a" stroke-width="0.55"/>
<line x1="40.1" y1="151.83" x2="41.5" y2="151.83" stroke="#1a1a1a" stroke-width="0.55"/>
<line x1="40.1" y1="151.25" x2="41.5" y2="151.25" stroke="#1a1a1a" stroke-width="0.55"/>
<line x1="40.1" y1="150.74" x2="41.5" y2="150.74" stroke="#1a1a1a" stroke-width="0.55"/>
<line x1="39.1" y1="170.32" x2="41.5" y2="170.32" stroke="#1a1a1a" stroke-width="0.8"/>
<text x="36.5" y="172.25" font-size="5.6" text-anchor="end" textLength="8.85" lengthAdjust="spacingAndGlyphs">100</text>
<line x1="40.1" y1="167.3" x2="41.5" y2="167.3" stroke="#1a1a1a" stroke-width="0.55"/>
<line x1="40.1" y1="165.54" x2="41.5" y2="165.54" stroke="#1a1a1a" stroke-width="0.55"/>
<line x1="40.1" y1="164.29" x2="41.5" y2="164.29" stroke="#1a1a1a" stroke-width="0.55"/>
<line x1="40.1" y1="163.32" x2="41.5" y2="163.32" stroke="#1a1a1a" stroke-width="0.55"/>
<line x1="40.1" y1="162.52" x2="41.5" y2="162.52" stroke="#1a1a1a" stroke-width="0.55"/>
<line x1="40.1" y1="161.85" x2="41.5" y2="161.85" stroke="#1a1a1a" stroke-width="0.55"/>
<line x1="40.1" y1="161.27" x2="41.5" y2="161.27" stroke="#1a1a1a" stroke-width="0.55"/>
<line x1="40.1" y1="160.76" x2="41.5" y2="160.76" stroke="#1a1a1a" stroke-width="0.55"/>
<line x1="39.1" y1="180.34" x2="41.5" y2="180.34" stroke="#1a1a1a" stroke-width="0.8"/>
<text x="36.5" y="182.27" font-size="5.6" text-anchor="end" textLength="5.9" lengthAdjust="spacingAndGlyphs">10</text>
<line x1="40.1" y1="177.32" x2="41.5" y2="177.32" stroke="#1a1a1a" stroke-width="0.55"/>
<line x1="40.1" y1="175.56" x2="41.5" y2="175.56" stroke="#1a1a1a" stroke-width="0.55"/>
<line x1="40.1" y1="174.31" x2="41.5" y2="174.31" stroke="#1a1a1a" stroke-width="0.55"/>
<line x1="40.1" y1="173.34" x2="41.5" y2="173.34" stroke="#1a1a1a" stroke-width="0.55"/>
<line x1="40.1" y1="172.54" x2="41.5" y2="172.54" stroke="#1a1a1a" stroke-width="0.55"/>
<line x1="40.1" y1="171.87" x2="41.5" y2="171.87" stroke="#1a1a1a" stroke-width="0.55"/>
<line x1="40.1" y1="171.29" x2="41.5" y2="171.29" stroke="#1a1a1a" stroke-width="0.55"/>
<line x1="40.1" y1="170.78" x2="41.5" y2="170.78" stroke="#1a1a1a" stroke-width="0.55"/>
<line x1="39.1" y1="190.36" x2="41.5" y2="190.36" stroke="#1a1a1a" stroke-width="0.8"/>
<text x="36.5" y="192.29" font-size="5.6" text-anchor="end" textLength="2.95" lengthAdjust="spacingAndGlyphs">1</text>
<line x1="40.1" y1="187.34" x2="41.5" y2="187.34" stroke="#1a1a1a" stroke-width="0.55"/>
<line x1="40.1" y1="185.58" x2="41.5" y2="185.58" stroke="#1a1a1a" stroke-width="0.55"/>
<line x1="40.1" y1="184.33" x2="41.5" y2="184.33" stroke="#1a1a1a" stroke-width="0.55"/>
<line x1="40.1" y1="183.36" x2="41.5" y2="183.36" stroke="#1a1a1a" stroke-width="0.55"/>
<line x1="40.1" y1="182.56" x2="41.5" y2="182.56" stroke="#1a1a1a" stroke-width="0.55"/>
<line x1="40.1" y1="181.89" x2="41.5" y2="181.89" stroke="#1a1a1a" stroke-width="0.55"/>
<line x1="40.1" y1="181.31" x2="41.5" y2="181.31" stroke="#1a1a1a" stroke-width="0.55"/>
<line x1="40.1" y1="180.8" x2="41.5" y2="180.8" stroke="#1a1a1a" stroke-width="0.55"/>
<line x1="39.1" y1="200.38" x2="41.5" y2="200.38" stroke="#1a1a1a" stroke-width="0.8"/>
<text x="36.5" y="202.31" font-size="5.6" text-anchor="end" textLength="7.45" lengthAdjust="spacingAndGlyphs">0.1</text>
<line x1="40.1" y1="197.36" x2="41.5" y2="197.36" stroke="#1a1a1a" stroke-width="0.55"/>
<line x1="40.1" y1="195.6" x2="41.5" y2="195.6" stroke="#1a1a1a" stroke-width="0.55"/>
<line x1="40.1" y1="194.35" x2="41.5" y2="194.35" stroke="#1a1a1a" stroke-width="0.55"/>
<line x1="40.1" y1="193.38" x2="41.5" y2="193.38" stroke="#1a1a1a" stroke-width="0.55"/>
<line x1="40.1" y1="192.58" x2="41.5" y2="192.58" stroke="#1a1a1a" stroke-width="0.55"/>
<line x1="40.1" y1="191.91" x2="41.5" y2="191.91" stroke="#1a1a1a" stroke-width="0.55"/>
<line x1="40.1" y1="191.33" x2="41.5" y2="191.33" stroke="#1a1a1a" stroke-width="0.55"/>
<line x1="40.1" y1="190.82" x2="41.5" y2="190.82" stroke="#1a1a1a" stroke-width="0.55"/>
<rect x="42.8" y="143.2" width="4" height="17.1" fill="#d9d3d9"/>
<rect x="49.27" y="144.7" width="4" height="15.6" fill="#d9d3d9"/>
<rect x="55.74" y="148.8" width="4" height="11.5" fill="#d9d3d9"/>
<rect x="62.21" y="151.9" width="4" height="8.4" fill="#d9d3d9"/>
<rect x="68.68" y="153.8" width="4" height="6.5" fill="#d9d3d9"/>
<rect x="75.15" y="156.5" width="4" height="3.8" fill="#9ea0b4"/>
<rect x="81.62" y="157" width="4" height="3.3" fill="#3b4a68"/>
<rect x="94.56" y="160.3" width="4" height="1.2" fill="#d9d3d9"/>
<rect x="101.03" y="160.3" width="4" height="4.3" fill="#3b4a68"/>
<rect x="107.5" y="160.3" width="4" height="5.4" fill="#3b4a68"/>
<rect x="113.97" y="160.3" width="4" height="8.5" fill="#3b4a68"/>
<rect x="120.44" y="160.3" width="4" height="19.7" fill="#3b4a68"/>
<rect x="126.91" y="160.3" width="4" height="25.4" fill="#3b4a68"/>
<line x1="41.5" y1="160.3" x2="132.3" y2="160.3" stroke="#1a1a1a" stroke-width="1"/>
<line x1="41" y1="200.5" x2="132.3" y2="200.5" stroke="#1a1a1a" stroke-width="1.1"/>
<line x1="44.8" y1="200.5" x2="44.8" y2="202.8" stroke="#1a1a1a" stroke-width="0.8"/>
<text x="46.8" y="208.9" font-size="4.5" text-anchor="end" textLength="5.58" lengthAdjust="spacingAndGlyphs" transform="rotate(-45 46.8 208.9)">HT</text>
<line x1="51.27" y1="200.5" x2="51.27" y2="202.8" stroke="#1a1a1a" stroke-width="0.8"/>
<text x="53.27" y="208.9" font-size="4.5" text-anchor="end" textLength="16.98" lengthAdjust="spacingAndGlyphs" transform="rotate(-45 53.27 208.9)">OCI-LY-3</text>
<line x1="57.74" y1="200.5" x2="57.74" y2="202.8" stroke="#1a1a1a" stroke-width="0.8"/>
<text x="59.74" y="208.9" font-size="4.5" text-anchor="end" textLength="26.97" lengthAdjust="spacingAndGlyphs" transform="rotate(-45 59.74 208.9)">RAJI (Burkitts)</text>
<line x1="64.21" y1="200.5" x2="64.21" y2="202.8" stroke="#1a1a1a" stroke-width="0.8"/>
<text x="66.21" y="208.9" font-size="4.5" text-anchor="end" textLength="24.19" lengthAdjust="spacingAndGlyphs" transform="rotate(-45 66.21 208.9)">WSU-DLCL2</text>
<line x1="70.68" y1="200.5" x2="70.68" y2="202.8" stroke="#1a1a1a" stroke-width="0.8"/>
<text x="72.68" y="208.9" font-size="4.5" text-anchor="end" textLength="16.04" lengthAdjust="spacingAndGlyphs" transform="rotate(-45 72.68 208.9)">DOHH-2</text>
<line x1="77.15" y1="200.5" x2="77.15" y2="202.8" stroke="#1a1a1a" stroke-width="0.8"/>
<text x="79.15" y="208.9" font-size="4.5" text-anchor="end" textLength="25.05" lengthAdjust="spacingAndGlyphs" transform="rotate(-45 79.15 208.9)">KARPAS-422</text>
<line x1="83.62" y1="200.5" x2="83.62" y2="202.8" stroke="#1a1a1a" stroke-width="0.8"/>
<text x="85.62" y="208.9" font-size="4.5" text-anchor="end" textLength="16.98" lengthAdjust="spacingAndGlyphs" transform="rotate(-45 85.62 208.9)">OCI-LY-1</text>
<line x1="90.09" y1="200.5" x2="90.09" y2="202.8" stroke="#1a1a1a" stroke-width="0.8"/>
<text x="92.09" y="208.9" font-size="4.5" text-anchor="end" textLength="5.81" lengthAdjust="spacingAndGlyphs" transform="rotate(-45 92.09 208.9)">DB</text>
<line x1="96.56" y1="200.5" x2="96.56" y2="202.8" stroke="#1a1a1a" stroke-width="0.8"/>
<text x="98.56" y="208.9" font-size="4.5" text-anchor="end" textLength="19.3" lengthAdjust="spacingAndGlyphs" transform="rotate(-45 98.56 208.9)">SU-DHL-4</text>
<line x1="103.03" y1="200.5" x2="103.03" y2="202.8" stroke="#1a1a1a" stroke-width="0.8"/>
<text x="105.03" y="208.9" font-size="4.5" text-anchor="end" textLength="32.79" lengthAdjust="spacingAndGlyphs" transform="rotate(-45 105.03 208.9)">OPM2 (Myeloma)</text>
<line x1="109.5" y1="200.5" x2="109.5" y2="202.8" stroke="#1a1a1a" stroke-width="0.8"/>
<text x="111.5" y="208.9" font-size="4.5" text-anchor="end" textLength="19.3" lengthAdjust="spacingAndGlyphs" transform="rotate(-45 111.5 208.9)">SU-DHL-8</text>
<line x1="115.97" y1="200.5" x2="115.97" y2="202.8" stroke="#1a1a1a" stroke-width="0.8"/>
<text x="117.97" y="208.9" font-size="4.5" text-anchor="end" textLength="28.21" lengthAdjust="spacingAndGlyphs" transform="rotate(-45 117.97 208.9)">WSU-NHL (FL)</text>
<line x1="122.44" y1="200.5" x2="122.44" y2="202.8" stroke="#1a1a1a" stroke-width="0.8"/>
<text x="124.44" y="208.9" font-size="4.5" text-anchor="end" textLength="19.3" lengthAdjust="spacingAndGlyphs" transform="rotate(-45 124.44 208.9)">SU-DHL-6</text>
<line x1="128.91" y1="200.5" x2="128.91" y2="202.8" stroke="#1a1a1a" stroke-width="0.8"/>
<text x="130.91" y="208.9" font-size="4.5" text-anchor="end" textLength="19.31" lengthAdjust="spacingAndGlyphs" transform="rotate(-45 130.91 208.9)">OCI-LY-18</text>
<rect x="81.6" y="133" width="4.8" height="3.6" fill="#d9d3d9"/>
<text x="90.2" y="136.53" font-size="5" textLength="22.2" lengthAdjust="spacingAndGlyphs">KMT2D WT</text>
<rect x="81.6" y="140.55" width="4.8" height="3.6" fill="#9ea0b4"/>
<text x="90.2" y="144.08" font-size="5" textLength="53.3" lengthAdjust="spacingAndGlyphs">KMT2D mono-allelic mutant</text>
<rect x="81.6" y="148.1" width="4.8" height="3.6" fill="#3b4a68"/>
<text x="90.2" y="151.62" font-size="5" textLength="45.6" lengthAdjust="spacingAndGlyphs">KMT2D bi-allelic mutant</text>
<text x="11.8" y="170.11" font-size="7" text-anchor="middle" textLength="59.6" lengthAdjust="spacingAndGlyphs" transform="rotate(-90 11.8 167.7)">EC<tspan font-size="4.6" dy="1.6">50</tspan><tspan dy="-1.6"> KDM5-inh1 [nM]</tspan></text>
<text x="162.6" y="127.1" font-size="10.4" font-weight="bold" fill="#000" style="stroke:#000;stroke-width:0.4px">C</text>
<line x1="197.2" y1="137.5" x2="197.2" y2="200.7" stroke="#1a1a1a" stroke-width="1.1"/>
<line x1="196.7" y1="200.2" x2="237.8" y2="200.2" stroke="#1a1a1a" stroke-width="1.1"/>
<line x1="194.8" y1="140.2" x2="197.2" y2="140.2" stroke="#1a1a1a" stroke-width="0.8"/>
<text x="191.4" y="142.13" font-size="5.6" text-anchor="end" textLength="17.4" lengthAdjust="spacingAndGlyphs">100000</text>
<line x1="194.8" y1="152.2" x2="197.2" y2="152.2" stroke="#1a1a1a" stroke-width="0.8"/>
<text x="191.4" y="154.13" font-size="5.6" text-anchor="end" textLength="14.5" lengthAdjust="spacingAndGlyphs">10000</text>
<line x1="195.8" y1="148.59" x2="197.2" y2="148.59" stroke="#1a1a1a" stroke-width="0.55"/>
<line x1="195.8" y1="146.47" x2="197.2" y2="146.47" stroke="#1a1a1a" stroke-width="0.55"/>
<line x1="195.8" y1="144.98" x2="197.2" y2="144.98" stroke="#1a1a1a" stroke-width="0.55"/>
<line x1="195.8" y1="143.81" x2="197.2" y2="143.81" stroke="#1a1a1a" stroke-width="0.55"/>
<line x1="195.8" y1="142.86" x2="197.2" y2="142.86" stroke="#1a1a1a" stroke-width="0.55"/>
<line x1="195.8" y1="142.06" x2="197.2" y2="142.06" stroke="#1a1a1a" stroke-width="0.55"/>
<line x1="195.8" y1="141.36" x2="197.2" y2="141.36" stroke="#1a1a1a" stroke-width="0.55"/>
<line x1="195.8" y1="140.75" x2="197.2" y2="140.75" stroke="#1a1a1a" stroke-width="0.55"/>
<line x1="194.8" y1="164.2" x2="197.2" y2="164.2" stroke="#1a1a1a" stroke-width="0.8"/>
<text x="191.4" y="166.13" font-size="5.6" text-anchor="end" textLength="11.6" lengthAdjust="spacingAndGlyphs">1000</text>
<line x1="195.8" y1="160.59" x2="197.2" y2="160.59" stroke="#1a1a1a" stroke-width="0.55"/>
<line x1="195.8" y1="158.47" x2="197.2" y2="158.47" stroke="#1a1a1a" stroke-width="0.55"/>
<line x1="195.8" y1="156.98" x2="197.2" y2="156.98" stroke="#1a1a1a" stroke-width="0.55"/>
<line x1="195.8" y1="155.81" x2="197.2" y2="155.81" stroke="#1a1a1a" stroke-width="0.55"/>
<line x1="195.8" y1="154.86" x2="197.2" y2="154.86" stroke="#1a1a1a" stroke-width="0.55"/>
<line x1="195.8" y1="154.06" x2="197.2" y2="154.06" stroke="#1a1a1a" stroke-width="0.55"/>
<line x1="195.8" y1="153.36" x2="197.2" y2="153.36" stroke="#1a1a1a" stroke-width="0.55"/>
<line x1="195.8" y1="152.75" x2="197.2" y2="152.75" stroke="#1a1a1a" stroke-width="0.55"/>
<line x1="194.8" y1="176.2" x2="197.2" y2="176.2" stroke="#1a1a1a" stroke-width="0.8"/>
<text x="191.4" y="178.13" font-size="5.6" text-anchor="end" textLength="8.7" lengthAdjust="spacingAndGlyphs">100</text>
<line x1="195.8" y1="172.59" x2="197.2" y2="172.59" stroke="#1a1a1a" stroke-width="0.55"/>
<line x1="195.8" y1="170.47" x2="197.2" y2="170.47" stroke="#1a1a1a" stroke-width="0.55"/>
<line x1="195.8" y1="168.98" x2="197.2" y2="168.98" stroke="#1a1a1a" stroke-width="0.55"/>
<line x1="195.8" y1="167.81" x2="197.2" y2="167.81" stroke="#1a1a1a" stroke-width="0.55"/>
<line x1="195.8" y1="166.86" x2="197.2" y2="166.86" stroke="#1a1a1a" stroke-width="0.55"/>
<line x1="195.8" y1="166.06" x2="197.2" y2="166.06" stroke="#1a1a1a" stroke-width="0.55"/>
<line x1="195.8" y1="165.36" x2="197.2" y2="165.36" stroke="#1a1a1a" stroke-width="0.55"/>
<line x1="195.8" y1="164.75" x2="197.2" y2="164.75" stroke="#1a1a1a" stroke-width="0.55"/>
<line x1="194.8" y1="188.2" x2="197.2" y2="188.2" stroke="#1a1a1a" stroke-width="0.8"/>
<text x="191.4" y="190.13" font-size="5.6" text-anchor="end" textLength="5.8" lengthAdjust="spacingAndGlyphs">10</text>
<line x1="195.8" y1="184.59" x2="197.2" y2="184.59" stroke="#1a1a1a" stroke-width="0.55"/>
<line x1="195.8" y1="182.47" x2="197.2" y2="182.47" stroke="#1a1a1a" stroke-width="0.55"/>
<line x1="195.8" y1="180.98" x2="197.2" y2="180.98" stroke="#1a1a1a" stroke-width="0.55"/>
<line x1="195.8" y1="179.81" x2="197.2" y2="179.81" stroke="#1a1a1a" stroke-width="0.55"/>
<line x1="195.8" y1="178.86" x2="197.2" y2="178.86" stroke="#1a1a1a" stroke-width="0.55"/>
<line x1="195.8" y1="178.06" x2="197.2" y2="178.06" stroke="#1a1a1a" stroke-width="0.55"/>
<line x1="195.8" y1="177.36" x2="197.2" y2="177.36" stroke="#1a1a1a" stroke-width="0.55"/>
<line x1="195.8" y1="176.75" x2="197.2" y2="176.75" stroke="#1a1a1a" stroke-width="0.55"/>
<line x1="194.8" y1="200.2" x2="197.2" y2="200.2" stroke="#1a1a1a" stroke-width="0.8"/>
<text x="191.4" y="202.13" font-size="5.6" text-anchor="end" textLength="2.9" lengthAdjust="spacingAndGlyphs">1</text>
<line x1="195.8" y1="196.59" x2="197.2" y2="196.59" stroke="#1a1a1a" stroke-width="0.55"/>
<line x1="195.8" y1="194.47" x2="197.2" y2="194.47" stroke="#1a1a1a" stroke-width="0.55"/>
<line x1="195.8" y1="192.98" x2="197.2" y2="192.98" stroke="#1a1a1a" stroke-width="0.55"/>
<line x1="195.8" y1="191.81" x2="197.2" y2="191.81" stroke="#1a1a1a" stroke-width="0.55"/>
<line x1="195.8" y1="190.86" x2="197.2" y2="190.86" stroke="#1a1a1a" stroke-width="0.55"/>
<line x1="195.8" y1="190.06" x2="197.2" y2="190.06" stroke="#1a1a1a" stroke-width="0.55"/>
<line x1="195.8" y1="189.36" x2="197.2" y2="189.36" stroke="#1a1a1a" stroke-width="0.55"/>
<line x1="195.8" y1="188.75" x2="197.2" y2="188.75" stroke="#1a1a1a" stroke-width="0.55"/>
<line x1="207.3" y1="200.2" x2="207.3" y2="202.5" stroke="#1a1a1a" stroke-width="0.8"/>
<text x="207.3" y="211.74" font-size="6.2" text-anchor="middle" textLength="16.9" lengthAdjust="spacingAndGlyphs">Mutant</text>
<line x1="227.1" y1="200.2" x2="227.1" y2="202.5" stroke="#1a1a1a" stroke-width="0.8"/>
<text x="227.1" y="211.74" font-size="6.2" text-anchor="middle" textLength="8.8" lengthAdjust="spacingAndGlyphs">WT</text>
<circle cx="205.5" cy="159.5" r="1.1" fill="#d0102a"/>
<circle cx="209.2" cy="160.3" r="1.1" fill="#d0102a"/>
<circle cx="207.4" cy="166.5" r="1.1" fill="#d0102a"/>
<circle cx="205.5" cy="169.5" r="1.1" fill="#d0102a"/>
<circle cx="209.2" cy="171" r="1.1" fill="#d0102a"/>
<circle cx="207.4" cy="174.9" r="1.1" fill="#d0102a"/>
<circle cx="207.3" cy="188.4" r="1.5" fill="#d0102a"/>
<circle cx="207.3" cy="194.5" r="1.5" fill="#d0102a"/>
<circle cx="225.7" cy="143.8" r="1.1" fill="#1f4f8f"/>
<circle cx="229.2" cy="145.8" r="1.1" fill="#1f4f8f"/>
<circle cx="227.4" cy="150.5" r="1.1" fill="#1f4f8f"/>
<circle cx="225.7" cy="154.2" r="1.1" fill="#1f4f8f"/>
<circle cx="229.2" cy="156.3" r="1.1" fill="#1f4f8f"/>
<circle cx="227.4" cy="164.8" r="1.1" fill="#1f4f8f"/>
<line x1="200.8" y1="165.7" x2="214.2" y2="165.7" stroke="#1a1a1a" stroke-width="1.1"/>
<line x1="221" y1="148.9" x2="233.8" y2="148.9" stroke="#1a1a1a" stroke-width="1.1"/>
<line x1="206.4" y1="141.2" x2="227.4" y2="141.2" stroke="#1a1a1a" stroke-width="0.9"/>
<text x="217.2" y="140.11" font-size="3.8" text-anchor="middle" class="ns">**</text>
<text x="168" y="171.41" font-size="7" text-anchor="middle" textLength="59.6" lengthAdjust="spacingAndGlyphs" transform="rotate(-90 168 169)">EC<tspan font-size="4.6" dy="1.6">50</tspan><tspan dy="-1.6"> KDM5-inh1 [nM]</tspan></text>
<text x="7.3" y="253.8" font-size="10.4" font-weight="bold" fill="#000" style="stroke:#000;stroke-width:0.4px">D</text>
<text x="51.6" y="263.66" font-size="8" textLength="33.3" lengthAdjust="spacingAndGlyphs" class="ns">OCI-LY-18</text>
<line x1="41.6" y1="268.3" x2="41.6" y2="322.8" stroke="#1a1a1a" stroke-width="1.1"/>
<line x1="41.1" y1="322.3" x2="93.9" y2="322.3" stroke="#1a1a1a" stroke-width="1.1"/>
<line x1="39.2" y1="322.3" x2="41.6" y2="322.3" stroke="#1a1a1a" stroke-width="0.8"/>
<text x="35.9" y="324.23" font-size="5.6" text-anchor="end" textLength="2.75" lengthAdjust="spacingAndGlyphs">0</text>
<line x1="39.2" y1="311.99" x2="41.6" y2="311.99" stroke="#1a1a1a" stroke-width="0.8"/>
<text x="35.9" y="313.92" font-size="5.6" text-anchor="end" textLength="5.5" lengthAdjust="spacingAndGlyphs">20</text>
<line x1="39.2" y1="301.68" x2="41.6" y2="301.68" stroke="#1a1a1a" stroke-width="0.8"/>
<text x="35.9" y="303.61" font-size="5.6" text-anchor="end" textLength="5.5" lengthAdjust="spacingAndGlyphs">40</text>
<line x1="39.2" y1="291.37" x2="41.6" y2="291.37" stroke="#1a1a1a" stroke-width="0.8"/>
<text x="35.9" y="293.3" font-size="5.6" text-anchor="end" textLength="5.5" lengthAdjust="spacingAndGlyphs">60</text>
<line x1="39.2" y1="281.06" x2="41.6" y2="281.06" stroke="#1a1a1a" stroke-width="0.8"/>
<text x="35.9" y="282.99" font-size="5.6" text-anchor="end" textLength="5.5" lengthAdjust="spacingAndGlyphs">80</text>
<line x1="39.2" y1="270.75" x2="41.6" y2="270.75" stroke="#1a1a1a" stroke-width="0.8"/>
<text x="35.9" y="272.68" font-size="5.6" text-anchor="end" textLength="8.25" lengthAdjust="spacingAndGlyphs">100</text>
<line x1="45.85" y1="313.28" x2="45.85" y2="315.6" stroke="#1a1a1a" stroke-width="0.75"/>
<line x1="44.85" y1="313.28" x2="46.85" y2="313.28" stroke="#1a1a1a" stroke-width="0.9"/>
<rect x="43.65" y="315.6" width="4.4" height="6.7" fill="#1b4d8e"/>
<rect x="43.65" y="320.75" width="4.4" height="1.55" fill="#d3102f"/>
<line x1="45.85" y1="319.45" x2="45.85" y2="321.55" stroke="#1a1a1a" stroke-width="0.6"/>
<line x1="44.95" y1="319.45" x2="46.75" y2="319.45" stroke="#1a1a1a" stroke-width="0.8"/>
<line x1="45.85" y1="322.3" x2="45.85" y2="324.6" stroke="#1a1a1a" stroke-width="0.8"/>
<text x="47.65" y="331.8" font-size="5.3" text-anchor="end" textLength="15.58" lengthAdjust="spacingAndGlyphs" transform="rotate(-45 47.65 331.8)">DMSO</text>
<line x1="53.3" y1="310.44" x2="53.3" y2="313.54" stroke="#1a1a1a" stroke-width="0.75"/>
<line x1="52.3" y1="310.44" x2="54.3" y2="310.44" stroke="#1a1a1a" stroke-width="0.9"/>
<rect x="51.1" y="313.54" width="4.4" height="8.76" fill="#1b4d8e"/>
<rect x="51.1" y="320.75" width="4.4" height="1.55" fill="#d3102f"/>
<line x1="53.3" y1="319.45" x2="53.3" y2="321.55" stroke="#1a1a1a" stroke-width="0.6"/>
<line x1="52.4" y1="319.45" x2="54.2" y2="319.45" stroke="#1a1a1a" stroke-width="0.8"/>
<line x1="53.3" y1="322.3" x2="53.3" y2="324.6" stroke="#1a1a1a" stroke-width="0.8"/>
<text x="55.1" y="331.8" font-size="5.3" text-anchor="end" textLength="10.11" lengthAdjust="spacingAndGlyphs" transform="rotate(-45 55.1 331.8)">0.31</text>
<line x1="60.75" y1="312.51" x2="60.75" y2="314.57" stroke="#1a1a1a" stroke-width="0.75"/>
<line x1="59.75" y1="312.51" x2="61.75" y2="312.51" stroke="#1a1a1a" stroke-width="0.9"/>
<rect x="58.55" y="314.57" width="4.4" height="7.73" fill="#1b4d8e"/>
<rect x="58.55" y="320.75" width="4.4" height="1.55" fill="#d3102f"/>
<line x1="60.75" y1="319.45" x2="60.75" y2="321.55" stroke="#1a1a1a" stroke-width="0.6"/>
<line x1="59.85" y1="319.45" x2="61.65" y2="319.45" stroke="#1a1a1a" stroke-width="0.8"/>
<line x1="60.75" y1="322.3" x2="60.75" y2="324.6" stroke="#1a1a1a" stroke-width="0.8"/>
<text x="62.55" y="331.8" font-size="5.3" text-anchor="end" textLength="7.22" lengthAdjust="spacingAndGlyphs" transform="rotate(-45 62.55 331.8)">2.4</text>
<line x1="68.2" y1="303.23" x2="68.2" y2="307.35" stroke="#1a1a1a" stroke-width="0.75"/>
<line x1="67.2" y1="303.23" x2="69.2" y2="303.23" stroke="#1a1a1a" stroke-width="0.9"/>
<rect x="66" y="307.35" width="4.4" height="14.95" fill="#1b4d8e"/>
<rect x="66" y="319.72" width="4.4" height="2.58" fill="#d3102f"/>
<line x1="68.2" y1="318.42" x2="68.2" y2="320.52" stroke="#1a1a1a" stroke-width="0.6"/>
<line x1="67.3" y1="318.42" x2="69.1" y2="318.42" stroke="#1a1a1a" stroke-width="0.8"/>
<line x1="68.2" y1="322.3" x2="68.2" y2="324.6" stroke="#1a1a1a" stroke-width="0.8"/>
<text x="70" y="331.8" font-size="5.3" text-anchor="end" textLength="10.11" lengthAdjust="spacingAndGlyphs" transform="rotate(-45 70 331.8)">19.5</text>
<line x1="75.65" y1="300.13" x2="75.65" y2="304.26" stroke="#1a1a1a" stroke-width="0.75"/>
<line x1="74.65" y1="300.13" x2="76.65" y2="300.13" stroke="#1a1a1a" stroke-width="0.9"/>
<rect x="73.45" y="304.26" width="4.4" height="18.04" fill="#1b4d8e"/>
<rect x="73.45" y="319.72" width="4.4" height="2.58" fill="#d3102f"/>
<line x1="75.65" y1="318.42" x2="75.65" y2="320.52" stroke="#1a1a1a" stroke-width="0.6"/>
<line x1="74.75" y1="318.42" x2="76.55" y2="318.42" stroke="#1a1a1a" stroke-width="0.8"/>
<line x1="75.65" y1="322.3" x2="75.65" y2="324.6" stroke="#1a1a1a" stroke-width="0.8"/>
<text x="77.45" y="331.8" font-size="5.3" text-anchor="end" textLength="8.67" lengthAdjust="spacingAndGlyphs" transform="rotate(-45 77.45 331.8)">156</text>
<line x1="83.1" y1="288.28" x2="83.1" y2="295.49" stroke="#1a1a1a" stroke-width="0.75"/>
<line x1="82.1" y1="288.28" x2="84.1" y2="288.28" stroke="#1a1a1a" stroke-width="0.9"/>
<rect x="80.9" y="295.49" width="4.4" height="26.81" fill="#1b4d8e"/>
<rect x="80.9" y="319.21" width="4.4" height="3.09" fill="#d3102f"/>
<line x1="83.1" y1="317.91" x2="83.1" y2="320.01" stroke="#1a1a1a" stroke-width="0.6"/>
<line x1="82.2" y1="317.91" x2="84" y2="317.91" stroke="#1a1a1a" stroke-width="0.8"/>
<line x1="83.1" y1="322.3" x2="83.1" y2="324.6" stroke="#1a1a1a" stroke-width="0.8"/>
<text x="84.9" y="331.8" font-size="5.3" text-anchor="end" textLength="11.56" lengthAdjust="spacingAndGlyphs" transform="rotate(-45 84.9 331.8)">1250</text>
<line x1="90.55" y1="273.33" x2="90.55" y2="281.06" stroke="#1a1a1a" stroke-width="0.75"/>
<line x1="89.55" y1="273.33" x2="91.55" y2="273.33" stroke="#1a1a1a" stroke-width="0.9"/>
<rect x="88.35" y="281.06" width="4.4" height="41.24" fill="#1b4d8e"/>
<rect x="88.35" y="318.18" width="4.4" height="4.12" fill="#d3102f"/>
<line x1="90.55" y1="316.88" x2="90.55" y2="318.98" stroke="#1a1a1a" stroke-width="0.6"/>
<line x1="89.65" y1="316.88" x2="91.45" y2="316.88" stroke="#1a1a1a" stroke-width="0.8"/>
<line x1="90.55" y1="322.3" x2="90.55" y2="324.6" stroke="#1a1a1a" stroke-width="0.8"/>
<text x="92.35" y="331.8" font-size="5.3" text-anchor="end" textLength="14.44" lengthAdjust="spacingAndGlyphs" transform="rotate(-45 92.35 331.8)">10000</text>
<text x="68" y="353.62" font-size="7.6" text-anchor="middle" textLength="44.6" lengthAdjust="spacingAndGlyphs">KDM5-inh1 (nM)</text>
<text x="128.9" y="263.66" font-size="8" textLength="33.3" lengthAdjust="spacingAndGlyphs" class="ns">SU-DHL-6</text>
<line x1="119.4" y1="268.3" x2="119.4" y2="322.8" stroke="#1a1a1a" stroke-width="1.1"/>
<line x1="118.9" y1="322.3" x2="171.7" y2="322.3" stroke="#1a1a1a" stroke-width="1.1"/>
<line x1="117" y1="322.3" x2="119.4" y2="322.3" stroke="#1a1a1a" stroke-width="0.8"/>
<text x="113.7" y="324.23" font-size="5.6" text-anchor="end" textLength="2.75" lengthAdjust="spacingAndGlyphs">0</text>
<line x1="117" y1="311.99" x2="119.4" y2="311.99" stroke="#1a1a1a" stroke-width="0.8"/>
<text x="113.7" y="313.92" font-size="5.6" text-anchor="end" textLength="5.5" lengthAdjust="spacingAndGlyphs">20</text>
<line x1="117" y1="301.68" x2="119.4" y2="301.68" stroke="#1a1a1a" stroke-width="0.8"/>
<text x="113.7" y="303.61" font-size="5.6" text-anchor="end" textLength="5.5" lengthAdjust="spacingAndGlyphs">40</text>
<line x1="117" y1="291.37" x2="119.4" y2="291.37" stroke="#1a1a1a" stroke-width="0.8"/>
<text x="113.7" y="293.3" font-size="5.6" text-anchor="end" textLength="5.5" lengthAdjust="spacingAndGlyphs">60</text>
<line x1="117" y1="281.06" x2="119.4" y2="281.06" stroke="#1a1a1a" stroke-width="0.8"/>
<text x="113.7" y="282.99" font-size="5.6" text-anchor="end" textLength="5.5" lengthAdjust="spacingAndGlyphs">80</text>
<line x1="117" y1="270.75" x2="119.4" y2="270.75" stroke="#1a1a1a" stroke-width="0.8"/>
<text x="113.7" y="272.68" font-size="5.6" text-anchor="end" textLength="8.25" lengthAdjust="spacingAndGlyphs">100</text>
<line x1="123.65" y1="314.31" x2="123.65" y2="316.63" stroke="#1a1a1a" stroke-width="0.75"/>
<line x1="122.65" y1="314.31" x2="124.65" y2="314.31" stroke="#1a1a1a" stroke-width="0.9"/>
<rect x="121.45" y="316.63" width="4.4" height="5.67" fill="#1b4d8e"/>
<rect x="121.45" y="319.98" width="4.4" height="2.32" fill="#d3102f"/>
<line x1="123.65" y1="318.68" x2="123.65" y2="320.78" stroke="#1a1a1a" stroke-width="0.6"/>
<line x1="122.75" y1="318.68" x2="124.55" y2="318.68" stroke="#1a1a1a" stroke-width="0.8"/>
<line x1="123.65" y1="322.3" x2="123.65" y2="324.6" stroke="#1a1a1a" stroke-width="0.8"/>
<text x="125.45" y="331.8" font-size="5.3" text-anchor="end" textLength="15.58" lengthAdjust="spacingAndGlyphs" transform="rotate(-45 125.45 331.8)">DMSO</text>
<line x1="131.1" y1="312.51" x2="131.1" y2="314.88" stroke="#1a1a1a" stroke-width="0.75"/>
<line x1="130.1" y1="312.51" x2="132.1" y2="312.51" stroke="#1a1a1a" stroke-width="0.9"/>
<rect x="128.9" y="314.88" width="4.4" height="7.42" fill="#1b4d8e"/>
<rect x="128.9" y="318.79" width="4.4" height="3.51" fill="#d3102f"/>
<line x1="131.1" y1="317.49" x2="131.1" y2="319.59" stroke="#1a1a1a" stroke-width="0.6"/>
<line x1="130.2" y1="317.49" x2="132" y2="317.49" stroke="#1a1a1a" stroke-width="0.8"/>
<line x1="131.1" y1="322.3" x2="131.1" y2="324.6" stroke="#1a1a1a" stroke-width="0.8"/>
<text x="132.9" y="331.8" font-size="5.3" text-anchor="end" textLength="10.11" lengthAdjust="spacingAndGlyphs" transform="rotate(-45 132.9 331.8)">0.31</text>
<line x1="138.55" y1="308.9" x2="138.55" y2="311.99" stroke="#1a1a1a" stroke-width="0.75"/>
<line x1="137.55" y1="308.9" x2="139.55" y2="308.9" stroke="#1a1a1a" stroke-width="0.9"/>
<rect x="136.35" y="311.99" width="4.4" height="10.31" fill="#1b4d8e"/>
<rect x="136.35" y="317.15" width="4.4" height="5.15" fill="#d3102f"/>
<line x1="138.55" y1="315.85" x2="138.55" y2="317.95" stroke="#1a1a1a" stroke-width="0.6"/>
<line x1="137.65" y1="315.85" x2="139.45" y2="315.85" stroke="#1a1a1a" stroke-width="0.8"/>
<line x1="138.55" y1="322.3" x2="138.55" y2="324.6" stroke="#1a1a1a" stroke-width="0.8"/>
<text x="140.35" y="331.8" font-size="5.3" text-anchor="end" textLength="7.22" lengthAdjust="spacingAndGlyphs" transform="rotate(-45 140.35 331.8)">2.4</text>
<line x1="146" y1="300.39" x2="146" y2="304.52" stroke="#1a1a1a" stroke-width="0.75"/>
<line x1="145" y1="300.39" x2="147" y2="300.39" stroke="#1a1a1a" stroke-width="0.9"/>
<rect x="143.8" y="304.52" width="4.4" height="17.78" fill="#1b4d8e"/>
<rect x="143.8" y="314.05" width="4.4" height="8.25" fill="#d3102f"/>
<line x1="146" y1="312.75" x2="146" y2="314.85" stroke="#1a1a1a" stroke-width="0.6"/>
<line x1="145.1" y1="312.75" x2="146.9" y2="312.75" stroke="#1a1a1a" stroke-width="0.8"/>
<line x1="146" y1="322.3" x2="146" y2="324.6" stroke="#1a1a1a" stroke-width="0.8"/>
<text x="147.8" y="331.8" font-size="5.3" text-anchor="end" textLength="10.11" lengthAdjust="spacingAndGlyphs" transform="rotate(-45 147.8 331.8)">19.5</text>
<line x1="153.45" y1="283.64" x2="153.45" y2="289.31" stroke="#1a1a1a" stroke-width="0.75"/>
<line x1="152.45" y1="283.64" x2="154.45" y2="283.64" stroke="#1a1a1a" stroke-width="0.9"/>
<rect x="151.25" y="289.31" width="4.4" height="32.99" fill="#1b4d8e"/>
<rect x="151.25" y="308.64" width="4.4" height="13.66" fill="#d3102f"/>
<line x1="153.45" y1="307.34" x2="153.45" y2="309.44" stroke="#1a1a1a" stroke-width="0.6"/>
<line x1="152.55" y1="307.34" x2="154.35" y2="307.34" stroke="#1a1a1a" stroke-width="0.8"/>
<line x1="153.45" y1="322.3" x2="153.45" y2="324.6" stroke="#1a1a1a" stroke-width="0.8"/>
<text x="155.25" y="331.8" font-size="5.3" text-anchor="end" textLength="8.67" lengthAdjust="spacingAndGlyphs" transform="rotate(-45 155.25 331.8)">156</text>
<line x1="160.9" y1="273.84" x2="160.9" y2="280.54" stroke="#1a1a1a" stroke-width="0.75"/>
<line x1="159.9" y1="273.84" x2="161.9" y2="273.84" stroke="#1a1a1a" stroke-width="0.9"/>
<rect x="158.7" y="280.54" width="4.4" height="41.76" fill="#1b4d8e"/>
<rect x="158.7" y="305.96" width="4.4" height="16.34" fill="#d3102f"/>
<rect x="158.7" y="321.27" width="4.4" height="1.03" fill="#2ea83a"/>
<line x1="160.9" y1="304.66" x2="160.9" y2="306.76" stroke="#1a1a1a" stroke-width="0.6"/>
<line x1="160" y1="304.66" x2="161.8" y2="304.66" stroke="#1a1a1a" stroke-width="0.8"/>
<line x1="160.9" y1="322.3" x2="160.9" y2="324.6" stroke="#1a1a1a" stroke-width="0.8"/>
<text x="162.7" y="331.8" font-size="5.3" text-anchor="end" textLength="11.56" lengthAdjust="spacingAndGlyphs" transform="rotate(-45 162.7 331.8)">1250</text>
<line x1="168.35" y1="273.84" x2="168.35" y2="279.77" stroke="#1a1a1a" stroke-width="0.75"/>
<line x1="167.35" y1="273.84" x2="169.35" y2="273.84" stroke="#1a1a1a" stroke-width="0.9"/>
<rect x="166.15" y="279.77" width="4.4" height="42.53" fill="#1b4d8e"/>
<rect x="166.15" y="304.26" width="4.4" height="18.04" fill="#d3102f"/>
<line x1="168.35" y1="302.96" x2="168.35" y2="305.06" stroke="#1a1a1a" stroke-width="0.6"/>
<line x1="167.45" y1="302.96" x2="169.25" y2="302.96" stroke="#1a1a1a" stroke-width="0.8"/>
<line x1="168.35" y1="322.3" x2="168.35" y2="324.6" stroke="#1a1a1a" stroke-width="0.8"/>
<text x="170.15" y="331.8" font-size="5.3" text-anchor="end" textLength="14.44" lengthAdjust="spacingAndGlyphs" transform="rotate(-45 170.15 331.8)">10000</text>
<text x="146" y="353.62" font-size="7.6" text-anchor="middle" textLength="44.6" lengthAdjust="spacingAndGlyphs">KDM5-inh1 (nM)</text>
<text x="218.9" y="263.66" font-size="8" textLength="9.5" lengthAdjust="spacingAndGlyphs" class="ns">HT</text>
<line x1="197.9" y1="268.3" x2="197.9" y2="322.8" stroke="#1a1a1a" stroke-width="1.1"/>
<line x1="197.4" y1="322.3" x2="250.2" y2="322.3" stroke="#1a1a1a" stroke-width="1.1"/>
<line x1="195.5" y1="322.3" x2="197.9" y2="322.3" stroke="#1a1a1a" stroke-width="0.8"/>
<text x="192.2" y="324.23" font-size="5.6" text-anchor="end" textLength="2.75" lengthAdjust="spacingAndGlyphs">0</text>
<line x1="195.5" y1="311.99" x2="197.9" y2="311.99" stroke="#1a1a1a" stroke-width="0.8"/>
<text x="192.2" y="313.92" font-size="5.6" text-anchor="end" textLength="5.5" lengthAdjust="spacingAndGlyphs">20</text>
<line x1="195.5" y1="301.68" x2="197.9" y2="301.68" stroke="#1a1a1a" stroke-width="0.8"/>
<text x="192.2" y="303.61" font-size="5.6" text-anchor="end" textLength="5.5" lengthAdjust="spacingAndGlyphs">40</text>
<line x1="195.5" y1="291.37" x2="197.9" y2="291.37" stroke="#1a1a1a" stroke-width="0.8"/>
<text x="192.2" y="293.3" font-size="5.6" text-anchor="end" textLength="5.5" lengthAdjust="spacingAndGlyphs">60</text>
<line x1="195.5" y1="281.06" x2="197.9" y2="281.06" stroke="#1a1a1a" stroke-width="0.8"/>
<text x="192.2" y="282.99" font-size="5.6" text-anchor="end" textLength="5.5" lengthAdjust="spacingAndGlyphs">80</text>
<line x1="195.5" y1="270.75" x2="197.9" y2="270.75" stroke="#1a1a1a" stroke-width="0.8"/>
<text x="192.2" y="272.68" font-size="5.6" text-anchor="end" textLength="8.25" lengthAdjust="spacingAndGlyphs">100</text>
<line x1="202.15" y1="321.53" x2="202.15" y2="321.78" stroke="#1a1a1a" stroke-width="0.75"/>
<line x1="201.15" y1="321.53" x2="203.15" y2="321.53" stroke="#1a1a1a" stroke-width="0.9"/>
<rect x="199.95" y="321.78" width="4.4" height="0.52" fill="#1b4d8e"/>
<rect x="199.95" y="322.15" width="4.4" height="0.15" fill="#d3102f"/>
<line x1="202.15" y1="322.3" x2="202.15" y2="324.6" stroke="#1a1a1a" stroke-width="0.8"/>
<text x="203.95" y="331.8" font-size="5.3" text-anchor="end" textLength="15.58" lengthAdjust="spacingAndGlyphs" transform="rotate(-45 203.95 331.8)">DMSO</text>
<line x1="209.6" y1="321.01" x2="209.6" y2="321.37" stroke="#1a1a1a" stroke-width="0.75"/>
<line x1="208.6" y1="321.01" x2="210.6" y2="321.01" stroke="#1a1a1a" stroke-width="0.9"/>
<rect x="207.4" y="321.37" width="4.4" height="0.93" fill="#1b4d8e"/>
<rect x="207.4" y="322.04" width="4.4" height="0.26" fill="#d3102f"/>
<line x1="209.6" y1="322.3" x2="209.6" y2="324.6" stroke="#1a1a1a" stroke-width="0.8"/>
<text x="211.4" y="331.8" font-size="5.3" text-anchor="end" textLength="10.11" lengthAdjust="spacingAndGlyphs" transform="rotate(-45 211.4 331.8)">0.31</text>
<line x1="217.05" y1="320.5" x2="217.05" y2="321.01" stroke="#1a1a1a" stroke-width="0.75"/>
<line x1="216.05" y1="320.5" x2="218.05" y2="320.5" stroke="#1a1a1a" stroke-width="0.9"/>
<rect x="214.85" y="321.01" width="4.4" height="1.29" fill="#1b4d8e"/>
<rect x="214.85" y="321.99" width="4.4" height="0.31" fill="#d3102f"/>
<line x1="217.05" y1="322.3" x2="217.05" y2="324.6" stroke="#1a1a1a" stroke-width="0.8"/>
<text x="218.85" y="331.8" font-size="5.3" text-anchor="end" textLength="7.22" lengthAdjust="spacingAndGlyphs" transform="rotate(-45 218.85 331.8)">2.4</text>
<line x1="224.5" y1="320.65" x2="224.5" y2="321.17" stroke="#1a1a1a" stroke-width="0.75"/>
<line x1="223.5" y1="320.65" x2="225.5" y2="320.65" stroke="#1a1a1a" stroke-width="0.9"/>
<rect x="222.3" y="321.17" width="4.4" height="1.13" fill="#1b4d8e"/>
<rect x="222.3" y="321.99" width="4.4" height="0.31" fill="#d3102f"/>
<line x1="224.5" y1="322.3" x2="224.5" y2="324.6" stroke="#1a1a1a" stroke-width="0.8"/>
<text x="226.3" y="331.8" font-size="5.3" text-anchor="end" textLength="10.11" lengthAdjust="spacingAndGlyphs" transform="rotate(-45 226.3 331.8)">19.5</text>
<line x1="231.95" y1="320.96" x2="231.95" y2="321.37" stroke="#1a1a1a" stroke-width="0.75"/>
<line x1="230.95" y1="320.96" x2="232.95" y2="320.96" stroke="#1a1a1a" stroke-width="0.9"/>
<rect x="229.75" y="321.37" width="4.4" height="0.93" fill="#1b4d8e"/>
<rect x="229.75" y="322.04" width="4.4" height="0.26" fill="#d3102f"/>
<line x1="231.95" y1="322.3" x2="231.95" y2="324.6" stroke="#1a1a1a" stroke-width="0.8"/>
<text x="233.75" y="331.8" font-size="5.3" text-anchor="end" textLength="8.67" lengthAdjust="spacingAndGlyphs" transform="rotate(-45 233.75 331.8)">156</text>
<line x1="239.4" y1="318.69" x2="239.4" y2="319.98" stroke="#1a1a1a" stroke-width="0.75"/>
<line x1="238.4" y1="318.69" x2="240.4" y2="318.69" stroke="#1a1a1a" stroke-width="0.9"/>
<rect x="237.2" y="319.98" width="4.4" height="2.32" fill="#1b4d8e"/>
<rect x="237.2" y="321.68" width="4.4" height="0.62" fill="#d3102f"/>
<line x1="239.4" y1="320.38" x2="239.4" y2="322.48" stroke="#1a1a1a" stroke-width="0.6"/>
<line x1="238.5" y1="320.38" x2="240.3" y2="320.38" stroke="#1a1a1a" stroke-width="0.8"/>
<line x1="239.4" y1="322.3" x2="239.4" y2="324.6" stroke="#1a1a1a" stroke-width="0.8"/>
<text x="241.2" y="331.8" font-size="5.3" text-anchor="end" textLength="11.56" lengthAdjust="spacingAndGlyphs" transform="rotate(-45 241.2 331.8)">1250</text>
<line x1="246.85" y1="317.4" x2="246.85" y2="318.69" stroke="#1a1a1a" stroke-width="0.75"/>
<line x1="245.85" y1="317.4" x2="247.85" y2="317.4" stroke="#1a1a1a" stroke-width="0.9"/>
<rect x="244.65" y="318.69" width="4.4" height="3.61" fill="#1b4d8e"/>
<rect x="244.65" y="320.75" width="4.4" height="1.55" fill="#d3102f"/>
<line x1="246.85" y1="319.45" x2="246.85" y2="321.55" stroke="#1a1a1a" stroke-width="0.6"/>
<line x1="245.95" y1="319.45" x2="247.75" y2="319.45" stroke="#1a1a1a" stroke-width="0.8"/>
<line x1="246.85" y1="322.3" x2="246.85" y2="324.6" stroke="#1a1a1a" stroke-width="0.8"/>
<text x="248.65" y="331.8" font-size="5.3" text-anchor="end" textLength="14.44" lengthAdjust="spacingAndGlyphs" transform="rotate(-45 248.65 331.8)">10000</text>
<text x="223.2" y="353.62" font-size="7.6" text-anchor="middle" textLength="44.6" lengthAdjust="spacingAndGlyphs">KDM5-inh1 (nM)</text>
<text x="19.4" y="297.49" font-size="7.8" text-anchor="middle" textLength="38.5" lengthAdjust="spacingAndGlyphs" transform="rotate(-90 19.4 294.8)">Percentage [%]</text>
<rect x="213.8" y="276.1" width="5.8" height="3" fill="#2ea83a"/>
<text x="221.9" y="279.15" font-size="4.5" textLength="33.2" lengthAdjust="spacingAndGlyphs" class="ns">Nucleated debris</text>
<rect x="213.8" y="282.2" width="5.8" height="3" fill="#d3102f"/>
<text x="221.9" y="285.25" font-size="4.5" textLength="38.9" lengthAdjust="spacingAndGlyphs" class="ns">Early apoptotic cells</text>
<rect x="213.8" y="288.3" width="5.8" height="3" fill="#1b4d8e"/>
<text x="221.9" y="291.35" font-size="4.5" textLength="28.8" lengthAdjust="spacingAndGlyphs" class="ns">Apoptotic cells</text>
<text x="291.9" y="16.9" font-size="10.4" font-weight="bold" fill="#000" style="stroke:#000;stroke-width:0.4px">E</text>
<rect x="317.1" y="29.1" width="68.6" height="16.2" fill="#e3e3e7" stroke="#303033" stroke-width="1.0"/>
<rect x="319.2" y="36.2" width="10.2" height="3.6" rx="1.8" fill="#050505" opacity="1" filter="url(#bl)"/>
<rect x="330.2" y="36.8" width="10.2" height="2.4" rx="1.2" fill="#050505" opacity="0.16" filter="url(#bl)"/>
<rect x="363.2" y="36.4" width="10.2" height="3.6" rx="1.8" fill="#050505" opacity="1" filter="url(#bl)"/>
<rect x="374.2" y="36.5" width="10.2" height="3.6" rx="1.8" fill="#050505" opacity="1" filter="url(#bl)"/>
<text x="314.9" y="35.23" font-size="5.6" text-anchor="end" textLength="18.8" lengthAdjust="spacingAndGlyphs">KDM5A</text>
<text x="314.9" y="39.53" font-size="3" text-anchor="end" textLength="12" lengthAdjust="spacingAndGlyphs" class="ns">(194kDa)</text>
<rect x="317.1" y="48.5" width="68.6" height="17.9" fill="#d9d9de" stroke="#303033" stroke-width="1.0"/>
<rect x="319.6" y="53.9" width="9.4" height="1.8" rx="0.9" fill="#050505" opacity="0.32" filter="url(#bl)" transform="rotate(3.5 324.3 54.8)"/>
<rect x="330.6" y="54.7" width="9.4" height="2" rx="1" fill="#050505" opacity="0.55" filter="url(#bl)" transform="rotate(3.5 335.3 55.7)"/>
<rect x="341.6" y="55.7" width="9.4" height="2" rx="1" fill="#050505" opacity="0.58" filter="url(#bl)" transform="rotate(3.5 346.3 56.7)"/>
<rect x="352.6" y="57.05" width="9.4" height="2.3" rx="1.15" fill="#050505" opacity="0.75" filter="url(#bl)" transform="rotate(3.5 357.3 58.2)"/>
<rect x="363.6" y="58.5" width="9.4" height="2.2" rx="1.1" fill="#050505" opacity="0.72" filter="url(#bl)" transform="rotate(3.5 368.3 59.6)"/>
<rect x="374.6" y="59.95" width="9.4" height="2.1" rx="1.05" fill="#050505" opacity="0.62" filter="url(#bl)" transform="rotate(3.5 379.3 61)"/>
<text x="314.9" y="54.63" font-size="5.6" text-anchor="end" textLength="18.8" lengthAdjust="spacingAndGlyphs">KDM5C</text>
<text x="314.9" y="58.93" font-size="3" text-anchor="end" textLength="12" lengthAdjust="spacingAndGlyphs" class="ns">(176kDa)</text>
<rect x="317.1" y="69.2" width="68.6" height="15.7" fill="#e0e0e6" stroke="#303033" stroke-width="1.0"/>
<rect x="319.2" y="75.75" width="10.2" height="2.9" rx="1.45" fill="#050505" opacity="1" filter="url(#bl)"/>
<rect x="330.2" y="75.75" width="10.2" height="2.9" rx="1.45" fill="#050505" opacity="1" filter="url(#bl)"/>
<rect x="341.2" y="75.75" width="10.2" height="2.9" rx="1.45" fill="#050505" opacity="1" filter="url(#bl)"/>
<rect x="352.2" y="75.75" width="10.2" height="2.9" rx="1.45" fill="#050505" opacity="1" filter="url(#bl)"/>
<rect x="363.2" y="75.75" width="10.2" height="2.9" rx="1.45" fill="#050505" opacity="1" filter="url(#bl)"/>
<rect x="374.2" y="75.75" width="10.2" height="2.9" rx="1.45" fill="#050505" opacity="1" filter="url(#bl)"/>
<text x="314.9" y="75.33" font-size="5.6" text-anchor="end" textLength="17.5" lengthAdjust="spacingAndGlyphs">HSC70</text>
<text x="314.9" y="79.64" font-size="3" text-anchor="end" textLength="10.5" lengthAdjust="spacingAndGlyphs" class="ns">(70kDa)</text>
<rect x="317.1" y="87.2" width="68.6" height="16" fill="url(#gb)" stroke="#303033" stroke-width="1.0"/>
<rect x="320" y="94.35" width="8.6" height="2.9" rx="1.45" fill="#050505" opacity="0.6" filter="url(#bl)"/>
<rect x="331" y="93.9" width="8.6" height="3" rx="1.5" fill="#050505" opacity="0.82" filter="url(#bl)"/>
<rect x="342" y="93.7" width="8.6" height="2.8" rx="1.4" fill="#050505" opacity="0.55" filter="url(#bl)"/>
<rect x="353" y="93.1" width="8.6" height="3" rx="1.5" fill="#050505" opacity="0.85" filter="url(#bl)"/>
<rect x="364" y="92.7" width="8.6" height="3" rx="1.5" fill="#050505" opacity="0.85" filter="url(#bl)"/>
<rect x="375" y="92.3" width="8.6" height="3" rx="1.5" fill="#050505" opacity="0.85" filter="url(#bl)"/>
<text x="314.9" y="93.33" font-size="5.6" text-anchor="end" textLength="13" lengthAdjust="spacingAndGlyphs">BCL2</text>
<text x="314.9" y="97.64" font-size="3" text-anchor="end" textLength="10.5" lengthAdjust="spacingAndGlyphs" class="ns">(26kDa)</text>
<rect x="317.1" y="106.2" width="68.6" height="13.7" fill="#dadade" stroke="#303033" stroke-width="1.0"/>
<rect x="319.2" y="114.3" width="10.2" height="2" rx="1" fill="#050505" opacity="0.5" filter="url(#bl)" transform="rotate(-1.5 324.3 115.3)"/>
<rect x="330.2" y="113.7" width="10.2" height="2.4" rx="1.2" fill="#050505" opacity="0.9" filter="url(#bl)" transform="rotate(-1.5 335.3 114.9)"/>
<rect x="341.2" y="113.5" width="10.2" height="2.2" rx="1.1" fill="#050505" opacity="0.75" filter="url(#bl)" transform="rotate(-1.5 346.3 114.6)"/>
<rect x="352.2" y="112.9" width="10.2" height="2.4" rx="1.2" fill="#050505" opacity="0.9" filter="url(#bl)" transform="rotate(-1.5 357.3 114.1)"/>
<rect x="363.2" y="112.5" width="10.2" height="2.2" rx="1.1" fill="#050505" opacity="0.8" filter="url(#bl)" transform="rotate(-1.5 368.3 113.6)"/>
<rect x="374.2" y="112" width="10.2" height="2" rx="1" fill="#050505" opacity="0.5" filter="url(#bl)" transform="rotate(-1.5 379.3 113)"/>
<text x="314.9" y="112.33" font-size="5.6" text-anchor="end" textLength="23.5" lengthAdjust="spacingAndGlyphs">H3K4me3</text>
<text x="314.9" y="116.64" font-size="3" text-anchor="end" textLength="10.5" lengthAdjust="spacingAndGlyphs" class="ns">(17kDa)</text>
<rect x="317.1" y="123.1" width="68.6" height="14.6" fill="#dcdce0" stroke="#303033" stroke-width="1.0"/>
<rect x="319.5" y="131.35" width="9.6" height="2.1" rx="1.05" fill="#050505" opacity="0.8" filter="url(#bl)" transform="rotate(-3 324.3 132.4)"/>
<rect x="330.5" y="130.45" width="9.6" height="2.3" rx="1.15" fill="#050505" opacity="0.85" filter="url(#bl)" transform="rotate(-3 335.3 131.6)"/>
<rect x="341.5" y="129.75" width="9.6" height="2.3" rx="1.15" fill="#050505" opacity="0.85" filter="url(#bl)" transform="rotate(-3 346.3 130.9)"/>
<rect x="352.5" y="128.9" width="9.6" height="2.4" rx="1.2" fill="#050505" opacity="0.9" filter="url(#bl)" transform="rotate(-3 357.3 130.1)"/>
<rect x="363.5" y="128" width="9.6" height="2.4" rx="1.2" fill="#050505" opacity="0.9" filter="url(#bl)" transform="rotate(-3 368.3 129.2)"/>
<rect x="374.5" y="127.1" width="9.6" height="2.2" rx="1.1" fill="#050505" opacity="0.8" filter="url(#bl)" transform="rotate(-3 379.3 128.2)"/>
<text x="314.9" y="129.23" font-size="5.6" text-anchor="end" textLength="7" lengthAdjust="spacingAndGlyphs">H3</text>
<text x="314.9" y="133.53" font-size="3" text-anchor="end" textLength="10.5" lengthAdjust="spacingAndGlyphs" class="ns">(17kDa)</text>
<text x="323" y="27.6" font-size="5.4" textLength="24.16" lengthAdjust="spacingAndGlyphs" transform="rotate(-45 323 27.6)">SU-DHL-6</text>
<text x="334" y="27.6" font-size="5.4" textLength="18.34" lengthAdjust="spacingAndGlyphs" transform="rotate(-45 334 27.6)">SU6-A3</text>
<text x="345" y="27.6" font-size="5.4" textLength="21.25" lengthAdjust="spacingAndGlyphs" transform="rotate(-45 345 27.6)">SU6-A30</text>
<text x="356" y="27.6" font-size="5.4" textLength="21.25" lengthAdjust="spacingAndGlyphs" transform="rotate(-45 356 27.6)">SU6-A50</text>
<text x="367" y="27.6" font-size="5.4" textLength="18.93" lengthAdjust="spacingAndGlyphs" transform="rotate(-45 367 27.6)">SU6#33</text>
<text x="378" y="27.6" font-size="5.4" textLength="18.93" lengthAdjust="spacingAndGlyphs" transform="rotate(-45 378 27.6)">SU6#34</text>
<text x="404.1" y="17.4" font-size="10.4" font-weight="bold" fill="#000" style="stroke:#000;stroke-width:0.4px">F</text>
<line x1="438.2" y1="23.3" x2="438.2" y2="94.8" stroke="#1a1a1a" stroke-width="1.1"/>
<line x1="437.7" y1="94.3" x2="506.6" y2="94.3" stroke="#1a1a1a" stroke-width="1.1"/>
<line x1="435.8" y1="94.3" x2="438.2" y2="94.3" stroke="#1a1a1a" stroke-width="0.8"/>
<text x="431.6" y="96.23" font-size="5.6" text-anchor="end" textLength="2.75" lengthAdjust="spacingAndGlyphs">0</text>
<line x1="435.8" y1="80.5" x2="438.2" y2="80.5" stroke="#1a1a1a" stroke-width="0.8"/>
<text x="431.6" y="82.43" font-size="5.6" text-anchor="end" textLength="5.5" lengthAdjust="spacingAndGlyphs">50</text>
<line x1="435.8" y1="66.7" x2="438.2" y2="66.7" stroke="#1a1a1a" stroke-width="0.8"/>
<text x="431.6" y="68.63" font-size="5.6" text-anchor="end" textLength="8.25" lengthAdjust="spacingAndGlyphs">100</text>
<line x1="435.8" y1="52.9" x2="438.2" y2="52.9" stroke="#1a1a1a" stroke-width="0.8"/>
<text x="431.6" y="54.83" font-size="5.6" text-anchor="end" textLength="8.25" lengthAdjust="spacingAndGlyphs">150</text>
<line x1="435.8" y1="39.1" x2="438.2" y2="39.1" stroke="#1a1a1a" stroke-width="0.8"/>
<text x="431.6" y="41.03" font-size="5.6" text-anchor="end" textLength="8.25" lengthAdjust="spacingAndGlyphs">200</text>
<line x1="435.8" y1="25.3" x2="438.2" y2="25.3" stroke="#1a1a1a" stroke-width="0.8"/>
<text x="431.6" y="27.23" font-size="5.6" text-anchor="end" textLength="8.25" lengthAdjust="spacingAndGlyphs">250</text>
<rect x="441.4" y="69.18" width="7.4" height="25.12" fill="#3e4b66"/>
<line x1="445.1" y1="59.52" x2="445.1" y2="78.84" stroke="#1a1a1a" stroke-width="0.85"/>
<line x1="443.8" y1="59.52" x2="446.4" y2="59.52" stroke="#1a1a1a" stroke-width="1"/>
<line x1="443.8" y1="78.84" x2="446.4" y2="78.84" stroke="#1a1a1a" stroke-width="1"/>
<line x1="445.1" y1="94.3" x2="445.1" y2="96.6" stroke="#1a1a1a" stroke-width="0.8"/>
<rect x="452" y="66.7" width="7.4" height="27.6" fill="#9b9dab"/>
<line x1="455.7" y1="94.3" x2="455.7" y2="96.6" stroke="#1a1a1a" stroke-width="0.8"/>
<rect x="462.9" y="57.87" width="7.4" height="36.43" fill="#dbd4dc"/>
<line x1="466.6" y1="55.11" x2="466.6" y2="60.08" stroke="#1a1a1a" stroke-width="0.85"/>
<line x1="465.3" y1="55.11" x2="467.9" y2="55.11" stroke="#1a1a1a" stroke-width="1"/>
<line x1="465.3" y1="60.08" x2="467.9" y2="60.08" stroke="#1a1a1a" stroke-width="1"/>
<line x1="466.6" y1="94.3" x2="466.6" y2="96.6" stroke="#1a1a1a" stroke-width="0.8"/>
<rect x="473.7" y="87.68" width="7.4" height="6.62" fill="#3aac35"/>
<line x1="477.4" y1="85.74" x2="477.4" y2="89.33" stroke="#1a1a1a" stroke-width="0.85"/>
<line x1="476.1" y1="85.74" x2="478.7" y2="85.74" stroke="#1a1a1a" stroke-width="1"/>
<line x1="476.1" y1="89.33" x2="478.7" y2="89.33" stroke="#1a1a1a" stroke-width="1"/>
<line x1="477.4" y1="94.3" x2="477.4" y2="96.6" stroke="#1a1a1a" stroke-width="0.8"/>
<rect x="484.5" y="90.99" width="7.4" height="3.31" fill="#d10f38"/>
<line x1="488.2" y1="87.68" x2="488.2" y2="92.92" stroke="#1a1a1a" stroke-width="0.85"/>
<line x1="486.9" y1="87.68" x2="489.5" y2="87.68" stroke="#1a1a1a" stroke-width="1"/>
<line x1="486.9" y1="92.92" x2="489.5" y2="92.92" stroke="#1a1a1a" stroke-width="1"/>
<line x1="488.2" y1="94.3" x2="488.2" y2="96.6" stroke="#1a1a1a" stroke-width="0.8"/>
<rect x="495.3" y="93.47" width="7.4" height="0.83" fill="#1e4c8a"/>
<line x1="499" y1="94.3" x2="499" y2="96.6" stroke="#1a1a1a" stroke-width="0.8"/>
<circle cx="477.4" cy="79.8" r="0.75" fill="#c9c9c9"/>
<circle cx="476.2" cy="85.5" r="0.75" fill="#c9c9c9"/>
<circle cx="488.2" cy="85.8" r="0.75" fill="#c9c9c9"/>
<circle cx="489" cy="88.5" r="0.75" fill="#c9c9c9"/>
<circle cx="499" cy="84.5" r="0.75" fill="#c9c9c9"/>
<circle cx="498.5" cy="90.2" r="0.75" fill="#c9c9c9"/>
<circle cx="500.5" cy="92" r="0.75" fill="#c9c9c9"/>
<line x1="440" y1="66.8" x2="506.5" y2="66.8" stroke="#111" stroke-width="0.95" stroke-dasharray="1.1 1.6"/>
<text x="446.9" y="102" font-size="5.3" text-anchor="end" textLength="24.44" lengthAdjust="spacingAndGlyphs" transform="rotate(-45 446.9 102)">SU-DHL-6</text>
<text x="457.5" y="102" font-size="5.3" text-anchor="end" textLength="19.15" lengthAdjust="spacingAndGlyphs" transform="rotate(-45 457.5 102)">SU6#33</text>
<text x="468.4" y="102" font-size="5.3" text-anchor="end" textLength="19.15" lengthAdjust="spacingAndGlyphs" transform="rotate(-45 468.4 102)">SU6#34</text>
<text x="479.2" y="102" font-size="5.3" text-anchor="end" textLength="18.56" lengthAdjust="spacingAndGlyphs" transform="rotate(-45 479.2 102)">SU6-A3</text>
<text x="490" y="102" font-size="5.3" text-anchor="end" textLength="21.51" lengthAdjust="spacingAndGlyphs" transform="rotate(-45 490 102)">SU6-A30</text>
<text x="500.8" y="102" font-size="5.3" text-anchor="end" textLength="21.51" lengthAdjust="spacingAndGlyphs" transform="rotate(-45 500.8 102)">SU6-A50</text>
<text x="406.9" y="61.79" font-size="7.8" text-anchor="middle" textLength="27.9" lengthAdjust="spacingAndGlyphs" transform="rotate(-90 406.9 59.1)">Viable cells</text>
<text x="414.9" y="61.09" font-size="7.8" text-anchor="middle" textLength="51.5" lengthAdjust="spacingAndGlyphs" transform="rotate(-90 414.9 58.4)">(relative to SU6#33)</text>
<text x="291.5" y="157.7" font-size="10.4" font-weight="bold" fill="#000" style="stroke:#000;stroke-width:0.4px">G</text>
<line x1="326.3" y1="163.4" x2="326.3" y2="216.8" stroke="#1a1a1a" stroke-width="1.1"/>
<line x1="323" y1="216.3" x2="376.9" y2="216.3" stroke="#1a1a1a" stroke-width="1.1"/>
<line x1="323.9" y1="216.3" x2="326.3" y2="216.3" stroke="#1a1a1a" stroke-width="0.8"/>
<text x="320.4" y="218.3" font-size="5.8" text-anchor="end" textLength="2.8" lengthAdjust="spacingAndGlyphs">0</text>
<line x1="323.9" y1="195.4" x2="326.3" y2="195.4" stroke="#1a1a1a" stroke-width="0.8"/>
<text x="320.4" y="197.4" font-size="5.8" text-anchor="end" textLength="5.6" lengthAdjust="spacingAndGlyphs">50</text>
<line x1="323.9" y1="174.5" x2="326.3" y2="174.5" stroke="#1a1a1a" stroke-width="0.8"/>
<text x="320.4" y="176.5" font-size="5.8" text-anchor="end" textLength="8.4" lengthAdjust="spacingAndGlyphs">100</text>
<line x1="330.5" y1="216.3" x2="330.5" y2="218.6" stroke="#1a1a1a" stroke-width="0.8"/>
<text x="330.5" y="227.63" font-size="5.6" text-anchor="middle" textLength="8.25" lengthAdjust="spacingAndGlyphs">-10</text>
<line x1="339.42" y1="216.3" x2="339.42" y2="218.6" stroke="#1a1a1a" stroke-width="0.8"/>
<text x="339.42" y="227.63" font-size="5.6" text-anchor="middle" textLength="5.5" lengthAdjust="spacingAndGlyphs">-9</text>
<line x1="348.34" y1="216.3" x2="348.34" y2="218.6" stroke="#1a1a1a" stroke-width="0.8"/>
<text x="348.34" y="227.63" font-size="5.6" text-anchor="middle" textLength="5.5" lengthAdjust="spacingAndGlyphs">-8</text>
<line x1="357.26" y1="216.3" x2="357.26" y2="218.6" stroke="#1a1a1a" stroke-width="0.8"/>
<text x="357.26" y="227.63" font-size="5.6" text-anchor="middle" textLength="5.5" lengthAdjust="spacingAndGlyphs">-7</text>
<line x1="366.18" y1="216.3" x2="366.18" y2="218.6" stroke="#1a1a1a" stroke-width="0.8"/>
<text x="366.18" y="227.63" font-size="5.6" text-anchor="middle" textLength="5.5" lengthAdjust="spacingAndGlyphs">-6</text>
<line x1="375.1" y1="216.3" x2="375.1" y2="218.6" stroke="#1a1a1a" stroke-width="0.8"/>
<text x="375.1" y="227.63" font-size="5.6" text-anchor="middle" textLength="5.5" lengthAdjust="spacingAndGlyphs">-5</text>
<text x="352.5" y="238.02" font-size="7.6" text-anchor="middle" textLength="55" lengthAdjust="spacingAndGlyphs">Log [KDM5-inh1] (M)</text>
<text x="295.6" y="192.69" font-size="7.8" text-anchor="middle" textLength="28.6" lengthAdjust="spacingAndGlyphs" transform="rotate(-90 295.6 190)">Viable cells</text>
<text x="303" y="191.89" font-size="7.8" text-anchor="middle" textLength="48.6" lengthAdjust="spacingAndGlyphs" transform="rotate(-90 303 189.2)">(relative to DMSO)</text>
<path d="M330.7,170.1 C332.7,170.13 339.37,170.18 342.7,170.3 C346.03,170.42 348.53,170.58 350.7,170.8 C352.87,171.02 354.02,171.08 355.7,171.6 C357.38,172.12 358.95,172.75 360.8,173.9 C362.65,175.05 365.1,177.12 366.8,178.5 C368.5,179.88 369.57,180.92 371,182.2 C372.43,183.48 374.67,185.53 375.4,186.2" fill="none" stroke="#3e4a63" stroke-width="0.9"/>
<path d="M330.7,174.2 C332.7,174.33 339.37,174.72 342.7,175 C346.03,175.28 348.02,175.2 350.7,175.9 C353.38,176.6 356.12,178.02 358.8,179.2 C361.48,180.38 364.03,181.05 366.8,183 C369.57,184.95 373.97,189.58 375.4,190.9" fill="none" stroke="#1f4f8f" stroke-width="0.85" stroke-dasharray="1.6 0.9"/>
<path d="M330.7,174.2 C332.7,174.35 339.37,174.8 342.7,175.1 C346.03,175.4 348.02,175.27 350.7,176 C353.38,176.73 356.12,178.13 358.8,179.5 C361.48,180.87 364.03,181.93 366.8,184.2 C369.57,186.47 373.97,191.62 375.4,193.1" fill="none" stroke="#3aaa35" stroke-width="0.85" stroke-dasharray="1.6 0.9"/>
<path d="M330.7,174.2 C332.7,174.37 339.37,174.88 342.7,175.2 C346.03,175.52 348.02,175.33 350.7,176.1 C353.38,176.87 356.12,178.27 358.8,179.8 C361.48,181.33 364.68,183.55 366.8,185.3 C368.92,187.05 370.07,188.55 371.5,190.3 C372.93,192.05 374.75,194.88 375.4,195.8" fill="none" stroke="#cf0c32" stroke-width="0.95"/>
<line x1="334.7" y1="168.67" x2="334.7" y2="171.67" stroke="#3e4a63" stroke-width="0.55"/>
<line x1="334" y1="168.67" x2="335.4" y2="168.67" stroke="#3e4a63" stroke-width="0.65"/>
<line x1="334" y1="171.67" x2="335.4" y2="171.67" stroke="#3e4a63" stroke-width="0.65"/>
<circle cx="334.7" cy="170.17" r="0.76" fill="#3e4a63"/>
<line x1="342.7" y1="166.9" x2="342.7" y2="171.3" stroke="#3e4a63" stroke-width="0.55"/>
<line x1="342" y1="166.9" x2="343.4" y2="166.9" stroke="#3e4a63" stroke-width="0.65"/>
<line x1="342" y1="171.3" x2="343.4" y2="171.3" stroke="#3e4a63" stroke-width="0.65"/>
<circle cx="342.7" cy="169.1" r="0.76" fill="#3e4a63"/>
<line x1="350.7" y1="166.2" x2="350.7" y2="171.8" stroke="#3e4a63" stroke-width="0.55"/>
<line x1="350" y1="166.2" x2="351.4" y2="166.2" stroke="#3e4a63" stroke-width="0.65"/>
<line x1="350" y1="171.8" x2="351.4" y2="171.8" stroke="#3e4a63" stroke-width="0.65"/>
<circle cx="350.7" cy="169" r="0.76" fill="#3e4a63"/>
<line x1="358.8" y1="171.8" x2="358.8" y2="175.8" stroke="#3e4a63" stroke-width="0.55"/>
<line x1="358.1" y1="171.8" x2="359.5" y2="171.8" stroke="#3e4a63" stroke-width="0.65"/>
<line x1="358.1" y1="175.8" x2="359.5" y2="175.8" stroke="#3e4a63" stroke-width="0.65"/>
<circle cx="358.8" cy="173.8" r="0.76" fill="#3e4a63"/>
<line x1="366.8" y1="176.9" x2="366.8" y2="180.1" stroke="#3e4a63" stroke-width="0.55"/>
<line x1="366.1" y1="176.9" x2="367.5" y2="176.9" stroke="#3e4a63" stroke-width="0.65"/>
<line x1="366.1" y1="180.1" x2="367.5" y2="180.1" stroke="#3e4a63" stroke-width="0.65"/>
<circle cx="366.8" cy="178.5" r="0.76" fill="#3e4a63"/>
<line x1="375.2" y1="184.52" x2="375.2" y2="187.52" stroke="#3e4a63" stroke-width="0.55"/>
<line x1="374.5" y1="184.52" x2="375.9" y2="184.52" stroke="#3e4a63" stroke-width="0.65"/>
<line x1="374.5" y1="187.52" x2="375.9" y2="187.52" stroke="#3e4a63" stroke-width="0.65"/>
<circle cx="375.2" cy="186.02" r="0.76" fill="#3e4a63"/>
<line x1="334.7" y1="173.27" x2="334.7" y2="176.27" stroke="#1f4f8f" stroke-width="0.55"/>
<line x1="334" y1="173.27" x2="335.4" y2="173.27" stroke="#1f4f8f" stroke-width="0.65"/>
<line x1="334" y1="176.27" x2="335.4" y2="176.27" stroke="#1f4f8f" stroke-width="0.65"/>
<path d="M334.7,173.81 L335.58,174.77 L334.7,175.73 L333.82,174.77 Z" fill="#1f4f8f"/>
<line x1="342.7" y1="173.8" x2="342.7" y2="177.4" stroke="#1f4f8f" stroke-width="0.55"/>
<line x1="342" y1="173.8" x2="343.4" y2="173.8" stroke="#1f4f8f" stroke-width="0.65"/>
<line x1="342" y1="177.4" x2="343.4" y2="177.4" stroke="#1f4f8f" stroke-width="0.65"/>
<path d="M342.7,174.64 L343.58,175.6 L342.7,176.56 L341.82,175.6 Z" fill="#1f4f8f"/>
<line x1="350.7" y1="174.8" x2="350.7" y2="177.8" stroke="#1f4f8f" stroke-width="0.55"/>
<line x1="350" y1="174.8" x2="351.4" y2="174.8" stroke="#1f4f8f" stroke-width="0.65"/>
<line x1="350" y1="177.8" x2="351.4" y2="177.8" stroke="#1f4f8f" stroke-width="0.65"/>
<path d="M350.7,175.34 L351.58,176.3 L350.7,177.26 L349.82,176.3 Z" fill="#1f4f8f"/>
<line x1="358.8" y1="177.7" x2="358.8" y2="180.7" stroke="#1f4f8f" stroke-width="0.55"/>
<line x1="358.1" y1="177.7" x2="359.5" y2="177.7" stroke="#1f4f8f" stroke-width="0.65"/>
<line x1="358.1" y1="180.7" x2="359.5" y2="180.7" stroke="#1f4f8f" stroke-width="0.65"/>
<path d="M358.8,178.24 L359.68,179.2 L358.8,180.16 L357.92,179.2 Z" fill="#1f4f8f"/>
<line x1="366.8" y1="181.2" x2="366.8" y2="184.8" stroke="#1f4f8f" stroke-width="0.55"/>
<line x1="366.1" y1="181.2" x2="367.5" y2="181.2" stroke="#1f4f8f" stroke-width="0.65"/>
<line x1="366.1" y1="184.8" x2="367.5" y2="184.8" stroke="#1f4f8f" stroke-width="0.65"/>
<path d="M366.8,182.04 L367.68,183 L366.8,183.96 L365.92,183 Z" fill="#1f4f8f"/>
<line x1="375.2" y1="189.12" x2="375.2" y2="192.32" stroke="#1f4f8f" stroke-width="0.55"/>
<line x1="374.5" y1="189.12" x2="375.9" y2="189.12" stroke="#1f4f8f" stroke-width="0.65"/>
<line x1="374.5" y1="192.32" x2="375.9" y2="192.32" stroke="#1f4f8f" stroke-width="0.65"/>
<path d="M375.2,189.76 L376.08,190.72 L375.2,191.68 L374.32,190.72 Z" fill="#1f4f8f"/>
<line x1="334.7" y1="172.7" x2="334.7" y2="175.1" stroke="#3aaa35" stroke-width="0.55"/>
<line x1="334" y1="172.7" x2="335.4" y2="172.7" stroke="#3aaa35" stroke-width="0.65"/>
<line x1="334" y1="175.1" x2="335.4" y2="175.1" stroke="#3aaa35" stroke-width="0.65"/>
<rect x="333.94" y="173.14" width="1.52" height="1.52" fill="#3aaa35"/>
<line x1="342.7" y1="174" x2="342.7" y2="177" stroke="#3aaa35" stroke-width="0.55"/>
<line x1="342" y1="174" x2="343.4" y2="174" stroke="#3aaa35" stroke-width="0.65"/>
<line x1="342" y1="177" x2="343.4" y2="177" stroke="#3aaa35" stroke-width="0.65"/>
<rect x="341.94" y="174.74" width="1.52" height="1.52" fill="#3aaa35"/>
<line x1="350.7" y1="172.5" x2="350.7" y2="177.5" stroke="#3aaa35" stroke-width="0.55"/>
<line x1="350" y1="172.5" x2="351.4" y2="172.5" stroke="#3aaa35" stroke-width="0.65"/>
<line x1="350" y1="177.5" x2="351.4" y2="177.5" stroke="#3aaa35" stroke-width="0.65"/>
<rect x="349.94" y="174.24" width="1.52" height="1.52" fill="#3aaa35"/>
<line x1="358.8" y1="178" x2="358.8" y2="181" stroke="#3aaa35" stroke-width="0.55"/>
<line x1="358.1" y1="178" x2="359.5" y2="178" stroke="#3aaa35" stroke-width="0.65"/>
<line x1="358.1" y1="181" x2="359.5" y2="181" stroke="#3aaa35" stroke-width="0.65"/>
<rect x="358.04" y="178.74" width="1.52" height="1.52" fill="#3aaa35"/>
<line x1="366.8" y1="182.9" x2="366.8" y2="186.5" stroke="#3aaa35" stroke-width="0.55"/>
<line x1="366.1" y1="182.9" x2="367.5" y2="182.9" stroke="#3aaa35" stroke-width="0.65"/>
<line x1="366.1" y1="186.5" x2="367.5" y2="186.5" stroke="#3aaa35" stroke-width="0.65"/>
<rect x="366.04" y="183.94" width="1.52" height="1.52" fill="#3aaa35"/>
<line x1="375.2" y1="191.09" x2="375.2" y2="194.69" stroke="#3aaa35" stroke-width="0.55"/>
<line x1="374.5" y1="191.09" x2="375.9" y2="191.09" stroke="#3aaa35" stroke-width="0.65"/>
<line x1="374.5" y1="194.69" x2="375.9" y2="194.69" stroke="#3aaa35" stroke-width="0.65"/>
<rect x="374.44" y="192.13" width="1.52" height="1.52" fill="#3aaa35"/>
<line x1="334.7" y1="173.73" x2="334.7" y2="175.73" stroke="#cf0c32" stroke-width="0.55"/>
<line x1="334" y1="173.73" x2="335.4" y2="173.73" stroke="#cf0c32" stroke-width="0.65"/>
<line x1="334" y1="175.73" x2="335.4" y2="175.73" stroke="#cf0c32" stroke-width="0.65"/>
<path d="M333.74,174.01 L335.66,174.01 L334.7,175.69 Z" fill="#cf0c32"/>
<line x1="342.7" y1="173.9" x2="342.7" y2="176.9" stroke="#cf0c32" stroke-width="0.55"/>
<line x1="342" y1="173.9" x2="343.4" y2="173.9" stroke="#cf0c32" stroke-width="0.65"/>
<line x1="342" y1="176.9" x2="343.4" y2="176.9" stroke="#cf0c32" stroke-width="0.65"/>
<path d="M341.74,174.68 L343.66,174.68 L342.7,176.36 Z" fill="#cf0c32"/>
<line x1="350.7" y1="178.3" x2="350.7" y2="182.3" stroke="#cf0c32" stroke-width="0.55"/>
<line x1="350" y1="178.3" x2="351.4" y2="178.3" stroke="#cf0c32" stroke-width="0.65"/>
<line x1="350" y1="182.3" x2="351.4" y2="182.3" stroke="#cf0c32" stroke-width="0.65"/>
<path d="M349.74,179.58 L351.66,179.58 L350.7,181.26 Z" fill="#cf0c32"/>
<line x1="358.8" y1="179.3" x2="358.8" y2="183.3" stroke="#cf0c32" stroke-width="0.55"/>
<line x1="358.1" y1="179.3" x2="359.5" y2="179.3" stroke="#cf0c32" stroke-width="0.65"/>
<line x1="358.1" y1="183.3" x2="359.5" y2="183.3" stroke="#cf0c32" stroke-width="0.65"/>
<path d="M357.84,180.58 L359.76,180.58 L358.8,182.26 Z" fill="#cf0c32"/>
<line x1="366.8" y1="187.3" x2="366.8" y2="192.3" stroke="#cf0c32" stroke-width="0.55"/>
<line x1="366.1" y1="187.3" x2="367.5" y2="187.3" stroke="#cf0c32" stroke-width="0.65"/>
<line x1="366.1" y1="192.3" x2="367.5" y2="192.3" stroke="#cf0c32" stroke-width="0.65"/>
<path d="M365.84,189.08 L367.76,189.08 L366.8,190.76 Z" fill="#cf0c32"/>
<line x1="375.2" y1="196.72" x2="375.2" y2="201.72" stroke="#cf0c32" stroke-width="0.55"/>
<line x1="374.5" y1="196.72" x2="375.9" y2="196.72" stroke="#cf0c32" stroke-width="0.65"/>
<line x1="374.5" y1="201.72" x2="375.9" y2="201.72" stroke="#cf0c32" stroke-width="0.65"/>
<path d="M374.24,198.5 L376.16,198.5 L375.2,200.18 Z" fill="#cf0c32"/>
<line x1="415.2" y1="160.8" x2="415.2" y2="217.3" stroke="#1a1a1a" stroke-width="1.1"/>
<line x1="414.7" y1="216.8" x2="450.6" y2="216.8" stroke="#1a1a1a" stroke-width="1.1"/>
<line x1="412.8" y1="216.8" x2="415.2" y2="216.8" stroke="#1a1a1a" stroke-width="0.8"/>
<text x="409" y="218.73" font-size="5.6" text-anchor="end" textLength="2.85" lengthAdjust="spacingAndGlyphs">0</text>
<line x1="412.8" y1="203.5" x2="415.2" y2="203.5" stroke="#1a1a1a" stroke-width="0.8"/>
<text x="409" y="205.43" font-size="5.6" text-anchor="end" textLength="8.55" lengthAdjust="spacingAndGlyphs">200</text>
<line x1="412.8" y1="190.2" x2="415.2" y2="190.2" stroke="#1a1a1a" stroke-width="0.8"/>
<text x="409" y="192.13" font-size="5.6" text-anchor="end" textLength="8.55" lengthAdjust="spacingAndGlyphs">400</text>
<line x1="412.8" y1="176.9" x2="415.2" y2="176.9" stroke="#1a1a1a" stroke-width="0.8"/>
<text x="409" y="178.83" font-size="5.6" text-anchor="end" textLength="8.55" lengthAdjust="spacingAndGlyphs">600</text>
<line x1="412.8" y1="163.6" x2="415.2" y2="163.6" stroke="#1a1a1a" stroke-width="0.8"/>
<text x="409" y="165.53" font-size="5.6" text-anchor="end" textLength="8.55" lengthAdjust="spacingAndGlyphs">800</text>
<line x1="423.5" y1="175.7" x2="451" y2="175.7" stroke="#111" stroke-width="0.85" stroke-dasharray="1.0 1.5"/>
<line x1="420.5" y1="173.24" x2="420.5" y2="175.57" stroke="#1a1a1a" stroke-width="0.85"/>
<line x1="419.3" y1="173.24" x2="421.7" y2="173.24" stroke="#1a1a1a" stroke-width="1"/>
<rect x="417.9" y="175.57" width="5.2" height="41.23" fill="#3e4a63"/>
<line x1="420.5" y1="216.8" x2="420.5" y2="219.1" stroke="#1a1a1a" stroke-width="0.8"/>
<text x="422.8" y="225.3" font-size="5.35" text-anchor="end" textLength="18.43" lengthAdjust="spacingAndGlyphs" transform="rotate(-45 422.8 225.3)">WSU#8</text>
<line x1="428.6" y1="180.56" x2="428.6" y2="181.89" stroke="#1a1a1a" stroke-width="0.85"/>
<line x1="427.4" y1="180.56" x2="429.8" y2="180.56" stroke="#1a1a1a" stroke-width="1"/>
<rect x="426" y="181.89" width="5.2" height="34.91" fill="#3aaa35"/>
<line x1="428.6" y1="216.8" x2="428.6" y2="219.1" stroke="#1a1a1a" stroke-width="0.8"/>
<text x="430.9" y="225.3" font-size="5.35" text-anchor="end" textLength="21.41" lengthAdjust="spacingAndGlyphs" transform="rotate(-45 430.9 225.3)">WSU#22</text>
<line x1="436.6" y1="180.89" x2="436.6" y2="182.55" stroke="#1a1a1a" stroke-width="0.85"/>
<line x1="435.4" y1="180.89" x2="437.8" y2="180.89" stroke="#1a1a1a" stroke-width="1"/>
<rect x="434" y="182.55" width="5.2" height="34.25" fill="#cf0c32"/>
<line x1="436.6" y1="216.8" x2="436.6" y2="219.1" stroke="#1a1a1a" stroke-width="0.8"/>
<text x="438.9" y="225.3" font-size="5.35" text-anchor="end" textLength="30.92" lengthAdjust="spacingAndGlyphs" transform="rotate(-45 438.9 225.3)">WSU-DLCL2</text>
<line x1="444.8" y1="181.22" x2="444.8" y2="181.89" stroke="#1a1a1a" stroke-width="0.85"/>
<line x1="443.6" y1="181.22" x2="446" y2="181.22" stroke="#1a1a1a" stroke-width="1"/>
<rect x="442.2" y="181.89" width="5.2" height="34.91" fill="#1f4f8f"/>
<line x1="444.8" y1="216.8" x2="444.8" y2="219.1" stroke="#1a1a1a" stroke-width="0.8"/>
<text x="447.1" y="225.3" font-size="5.35" text-anchor="end" textLength="21.41" lengthAdjust="spacingAndGlyphs" transform="rotate(-45 447.1 225.3)">WSU#61</text>
<text x="393.6" y="191.69" font-size="7.8" text-anchor="middle" textLength="54.5" lengthAdjust="spacingAndGlyphs" transform="rotate(-90 393.6 189)">Area under the cruve</text>
<line x1="459.4" y1="166.8" x2="467.5" y2="166.8" stroke="#3e4a63" stroke-width="1"/>
<circle cx="463.4" cy="166.8" r="1.19" fill="#3e4a63"/>
<text x="470.6" y="168.59" font-size="5.2" textLength="27.65" lengthAdjust="spacingAndGlyphs" class="ns">WSU-DLCL2</text>
<text x="470.6" y="173.83" font-size="5" font-style="italic" textLength="29.39" lengthAdjust="spacingAndGlyphs" class="ns">(Parental - WT)</text>
<line x1="459.4" y1="179.55" x2="467.5" y2="179.55" stroke="#3aaa35" stroke-width="1" stroke-dasharray="2.1 0.9"/>
<rect x="462.21" y="178.36" width="2.38" height="2.38" fill="#3aaa35"/>
<text x="470.6" y="181.34" font-size="5.2" textLength="16.48" lengthAdjust="spacingAndGlyphs" class="ns">WSU#8</text>
<text x="470.6" y="186.58" font-size="5" font-style="italic" textLength="28.69" lengthAdjust="spacingAndGlyphs" class="ns">(40bp deletion)</text>
<line x1="459.4" y1="192.3" x2="467.5" y2="192.3" stroke="#cf0c32" stroke-width="1" stroke-dasharray="2.1 0.9"/>
<path d="M461.9,191.18 L464.9,191.18 L463.4,193.8 Z" fill="#cf0c32"/>
<text x="470.6" y="194.09" font-size="5.2" textLength="19.14" lengthAdjust="spacingAndGlyphs" class="ns">WSU#22</text>
<text x="470.6" y="199.33" font-size="5" font-style="italic" textLength="26.3" lengthAdjust="spacingAndGlyphs" class="ns">(1bp deletion)</text>
<line x1="459.4" y1="205.05" x2="467.5" y2="205.05" stroke="#1f4f8f" stroke-width="1" stroke-dasharray="2.1 0.9"/>
<path d="M463.4,203.55 L464.77,205.05 L463.4,206.55 L462.02,205.05 Z" fill="#1f4f8f"/>
<text x="470.6" y="206.84" font-size="5.2" textLength="19.14" lengthAdjust="spacingAndGlyphs" class="ns">WSU#61</text>
<text x="470.6" y="212.08" font-size="5" font-style="italic" textLength="28.69" lengthAdjust="spacingAndGlyphs" class="ns">(40bp deletion)</text>
<text x="291.9" y="254.2" font-size="10.4" font-weight="bold" fill="#000" style="stroke:#000;stroke-width:0.4px">H</text>
<line x1="326.3" y1="266.5" x2="326.3" y2="322.9" stroke="#1a1a1a" stroke-width="1.1"/>
<line x1="325.8" y1="322.4" x2="381.7" y2="322.4" stroke="#1a1a1a" stroke-width="1.1"/>
<line x1="323.9" y1="322.4" x2="326.3" y2="322.4" stroke="#1a1a1a" stroke-width="0.8"/>
<text x="320.4" y="324.4" font-size="5.8" text-anchor="end" textLength="2.8" lengthAdjust="spacingAndGlyphs">0</text>
<line x1="323.9" y1="304.5" x2="326.3" y2="304.5" stroke="#1a1a1a" stroke-width="0.8"/>
<text x="320.4" y="306.5" font-size="5.8" text-anchor="end" textLength="5.6" lengthAdjust="spacingAndGlyphs">50</text>
<line x1="323.9" y1="286.6" x2="326.3" y2="286.6" stroke="#1a1a1a" stroke-width="0.8"/>
<text x="320.4" y="288.6" font-size="5.8" text-anchor="end" textLength="8.4" lengthAdjust="spacingAndGlyphs">100</text>
<line x1="323.9" y1="268.7" x2="326.3" y2="268.7" stroke="#1a1a1a" stroke-width="0.8"/>
<text x="320.4" y="270.7" font-size="5.8" text-anchor="end" textLength="8.4" lengthAdjust="spacingAndGlyphs">150</text>
<line x1="326" y1="322.4" x2="326" y2="324.7" stroke="#1a1a1a" stroke-width="0.8"/>
<text x="325.8" y="332.93" font-size="5.6" text-anchor="middle" textLength="8.25" lengthAdjust="spacingAndGlyphs">-10</text>
<line x1="336.72" y1="322.4" x2="336.72" y2="324.7" stroke="#1a1a1a" stroke-width="0.8"/>
<text x="336.52" y="332.93" font-size="5.6" text-anchor="middle" textLength="5.5" lengthAdjust="spacingAndGlyphs">-9</text>
<line x1="347.44" y1="322.4" x2="347.44" y2="324.7" stroke="#1a1a1a" stroke-width="0.8"/>
<text x="347.24" y="332.93" font-size="5.6" text-anchor="middle" textLength="5.5" lengthAdjust="spacingAndGlyphs">-8</text>
<line x1="358.16" y1="322.4" x2="358.16" y2="324.7" stroke="#1a1a1a" stroke-width="0.8"/>
<text x="357.96" y="332.93" font-size="5.6" text-anchor="middle" textLength="5.5" lengthAdjust="spacingAndGlyphs">-7</text>
<line x1="368.88" y1="322.4" x2="368.88" y2="324.7" stroke="#1a1a1a" stroke-width="0.8"/>
<text x="368.68" y="332.93" font-size="5.6" text-anchor="middle" textLength="5.5" lengthAdjust="spacingAndGlyphs">-6</text>
<line x1="379.6" y1="322.4" x2="379.6" y2="324.7" stroke="#1a1a1a" stroke-width="0.8"/>
<text x="379.4" y="332.93" font-size="5.6" text-anchor="middle" textLength="5.5" lengthAdjust="spacingAndGlyphs">-5</text>
<text x="354.4" y="343.52" font-size="7.6" text-anchor="middle" textLength="55" lengthAdjust="spacingAndGlyphs">Log [KDM5-inh1] (M)</text>
<text x="295.6" y="296.69" font-size="7.8" text-anchor="middle" textLength="28.6" lengthAdjust="spacingAndGlyphs" transform="rotate(-90 295.6 294)">Viable cells</text>
<text x="303" y="295.89" font-size="7.8" text-anchor="middle" textLength="48.6" lengthAdjust="spacingAndGlyphs" transform="rotate(-90 303 293.2)">(relative to DMSO)</text>
<path d="M326,280 C328.33,280.05 336.02,280 340,280.3 C343.98,280.6 347.4,281.27 349.9,281.8 C352.4,282.33 353.28,282.68 355,283.5 C356.72,284.32 358.53,284.83 360.2,286.7 C361.87,288.57 363.4,291.65 365,294.7 C366.6,297.75 368.33,302.08 369.8,305 C371.27,307.92 372.22,309.82 373.8,312.2 C375.38,314.58 378.38,318.12 379.3,319.3" fill="none" stroke="#1f4f8f" stroke-width="0.9" stroke-dasharray="1.6 0.9"/>
<path d="M326,282.4 C328.33,282.47 336.02,282.48 340,282.8 C343.98,283.12 347.4,283.55 349.9,284.3 C352.4,285.05 353.28,286.1 355,287.3 C356.72,288.5 358.53,290 360.2,291.5 C361.87,293 363.4,294.32 365,296.3 C366.6,298.28 368.22,300.87 369.8,303.4 C371.38,305.93 372.92,308.85 374.5,311.5 C376.08,314.15 378.5,318 379.3,319.3" fill="none" stroke="#cf0c32" stroke-width="1"/>
<path d="M326,285.1 C327.17,285.17 330.62,285.27 333,285.5 C335.38,285.73 337.48,285.63 340.3,286.5 C343.12,287.37 347.45,289.37 349.9,290.7 C352.35,292.03 353.28,293.18 355,294.5 C356.72,295.82 358.53,297.27 360.2,298.6 C361.87,299.93 363.4,301.17 365,302.5 C366.6,303.83 368.22,304.93 369.8,306.6 C371.38,308.27 372.92,310.52 374.5,312.5 C376.08,314.48 378.5,317.5 379.3,318.5" fill="none" stroke="#3aaa35" stroke-width="0.9" stroke-dasharray="1.6 0.9"/>
<path d="M326,282.4 C327.17,282.47 330.62,282.48 333,282.8 C335.38,283.12 338.3,283.68 340.3,284.3 C342.3,284.92 343.4,285.57 345,286.5 C346.6,287.43 348.22,288.53 349.9,289.9 C351.58,291.27 353.38,292.32 355.1,294.7 C356.82,297.08 358.55,301.28 360.2,304.2 C361.85,307.12 363.4,310.13 365,312.2 C366.6,314.27 368.22,315.5 369.8,316.6 C371.38,317.7 372.92,318.27 374.5,318.8 C376.08,319.33 378.5,319.63 379.3,319.8" fill="none" stroke="#3e4a63" stroke-width="0.9"/>
<line x1="331.1" y1="276.61" x2="331.1" y2="281.61" stroke="#1f4f8f" stroke-width="0.55"/>
<line x1="330.4" y1="276.61" x2="331.8" y2="276.61" stroke="#1f4f8f" stroke-width="0.65"/>
<line x1="330.4" y1="281.61" x2="331.8" y2="281.61" stroke="#1f4f8f" stroke-width="0.65"/>
<path d="M331.1,278.15 L331.98,279.11 L331.1,280.07 L330.22,279.11 Z" fill="#1f4f8f"/>
<line x1="340.6" y1="271.89" x2="340.6" y2="282.89" stroke="#1f4f8f" stroke-width="0.55"/>
<line x1="339.9" y1="271.89" x2="341.3" y2="271.89" stroke="#1f4f8f" stroke-width="0.65"/>
<line x1="339.9" y1="282.89" x2="341.3" y2="282.89" stroke="#1f4f8f" stroke-width="0.65"/>
<path d="M340.6,276.43 L341.48,277.39 L340.6,278.35 L339.72,277.39 Z" fill="#1f4f8f"/>
<line x1="350.7" y1="278.07" x2="350.7" y2="285.07" stroke="#1f4f8f" stroke-width="0.55"/>
<line x1="350" y1="278.07" x2="351.4" y2="278.07" stroke="#1f4f8f" stroke-width="0.65"/>
<line x1="350" y1="285.07" x2="351.4" y2="285.07" stroke="#1f4f8f" stroke-width="0.65"/>
<path d="M350.7,280.61 L351.58,281.57 L350.7,282.53 L349.82,281.57 Z" fill="#1f4f8f"/>
<line x1="360.2" y1="283.7" x2="360.2" y2="289.7" stroke="#1f4f8f" stroke-width="0.55"/>
<line x1="359.5" y1="283.7" x2="360.9" y2="283.7" stroke="#1f4f8f" stroke-width="0.65"/>
<line x1="359.5" y1="289.7" x2="360.9" y2="289.7" stroke="#1f4f8f" stroke-width="0.65"/>
<path d="M360.2,285.74 L361.08,286.7 L360.2,287.66 L359.32,286.7 Z" fill="#1f4f8f"/>
<line x1="369.8" y1="301.5" x2="369.8" y2="308.5" stroke="#1f4f8f" stroke-width="0.55"/>
<line x1="369.1" y1="301.5" x2="370.5" y2="301.5" stroke="#1f4f8f" stroke-width="0.65"/>
<line x1="369.1" y1="308.5" x2="370.5" y2="308.5" stroke="#1f4f8f" stroke-width="0.65"/>
<path d="M369.8,304.04 L370.68,305 L369.8,305.96 L368.92,305 Z" fill="#1f4f8f"/>
<line x1="379.3" y1="318.3" x2="379.3" y2="320.3" stroke="#1f4f8f" stroke-width="0.55"/>
<line x1="378.6" y1="318.3" x2="380" y2="318.3" stroke="#1f4f8f" stroke-width="0.65"/>
<line x1="378.6" y1="320.3" x2="380" y2="320.3" stroke="#1f4f8f" stroke-width="0.65"/>
<path d="M379.3,318.34 L380.18,319.3 L379.3,320.26 L378.42,319.3 Z" fill="#1f4f8f"/>
<line x1="331.1" y1="280.55" x2="331.1" y2="284.55" stroke="#cf0c32" stroke-width="0.55"/>
<line x1="330.4" y1="280.55" x2="331.8" y2="280.55" stroke="#cf0c32" stroke-width="0.65"/>
<line x1="330.4" y1="284.55" x2="331.8" y2="284.55" stroke="#cf0c32" stroke-width="0.65"/>
<path d="M330.14,281.83 L332.06,281.83 L331.1,283.51 Z" fill="#cf0c32"/>
<line x1="340.6" y1="280.39" x2="340.6" y2="285.39" stroke="#cf0c32" stroke-width="0.55"/>
<line x1="339.9" y1="280.39" x2="341.3" y2="280.39" stroke="#cf0c32" stroke-width="0.65"/>
<line x1="339.9" y1="285.39" x2="341.3" y2="285.39" stroke="#cf0c32" stroke-width="0.65"/>
<path d="M339.64,282.17 L341.56,282.17 L340.6,283.85 Z" fill="#cf0c32"/>
<line x1="350.7" y1="282.27" x2="350.7" y2="287.27" stroke="#cf0c32" stroke-width="0.55"/>
<line x1="350" y1="282.27" x2="351.4" y2="282.27" stroke="#cf0c32" stroke-width="0.65"/>
<line x1="350" y1="287.27" x2="351.4" y2="287.27" stroke="#cf0c32" stroke-width="0.65"/>
<path d="M349.74,284.05 L351.66,284.05 L350.7,285.73 Z" fill="#cf0c32"/>
<line x1="360.2" y1="289.5" x2="360.2" y2="293.5" stroke="#cf0c32" stroke-width="0.55"/>
<line x1="359.5" y1="289.5" x2="360.9" y2="289.5" stroke="#cf0c32" stroke-width="0.65"/>
<line x1="359.5" y1="293.5" x2="360.9" y2="293.5" stroke="#cf0c32" stroke-width="0.65"/>
<path d="M359.24,290.78 L361.16,290.78 L360.2,292.46 Z" fill="#cf0c32"/>
<line x1="369.8" y1="300.4" x2="369.8" y2="306.4" stroke="#cf0c32" stroke-width="0.55"/>
<line x1="369.1" y1="300.4" x2="370.5" y2="300.4" stroke="#cf0c32" stroke-width="0.65"/>
<line x1="369.1" y1="306.4" x2="370.5" y2="306.4" stroke="#cf0c32" stroke-width="0.65"/>
<path d="M368.84,302.68 L370.76,302.68 L369.8,304.36 Z" fill="#cf0c32"/>
<line x1="379.3" y1="318.3" x2="379.3" y2="320.3" stroke="#cf0c32" stroke-width="0.55"/>
<line x1="378.6" y1="318.3" x2="380" y2="318.3" stroke="#cf0c32" stroke-width="0.65"/>
<line x1="378.6" y1="320.3" x2="380" y2="320.3" stroke="#cf0c32" stroke-width="0.65"/>
<path d="M378.34,318.58 L380.26,318.58 L379.3,320.26 Z" fill="#cf0c32"/>
<line x1="331.1" y1="284.39" x2="331.1" y2="286.39" stroke="#3aaa35" stroke-width="0.55"/>
<line x1="330.4" y1="284.39" x2="331.8" y2="284.39" stroke="#3aaa35" stroke-width="0.65"/>
<line x1="330.4" y1="286.39" x2="331.8" y2="286.39" stroke="#3aaa35" stroke-width="0.65"/>
<rect x="330.34" y="284.63" width="1.52" height="1.52" fill="#3aaa35"/>
<line x1="340.6" y1="285.13" x2="340.6" y2="288.13" stroke="#3aaa35" stroke-width="0.55"/>
<line x1="339.9" y1="285.13" x2="341.3" y2="285.13" stroke="#3aaa35" stroke-width="0.65"/>
<line x1="339.9" y1="288.13" x2="341.3" y2="288.13" stroke="#3aaa35" stroke-width="0.65"/>
<rect x="339.84" y="285.87" width="1.52" height="1.52" fill="#3aaa35"/>
<line x1="350.7" y1="283.3" x2="350.7" y2="295.3" stroke="#3aaa35" stroke-width="0.55"/>
<line x1="350" y1="283.3" x2="351.4" y2="283.3" stroke="#3aaa35" stroke-width="0.65"/>
<line x1="350" y1="295.3" x2="351.4" y2="295.3" stroke="#3aaa35" stroke-width="0.65"/>
<rect x="349.94" y="288.54" width="1.52" height="1.52" fill="#3aaa35"/>
<line x1="360.2" y1="297.1" x2="360.2" y2="300.1" stroke="#3aaa35" stroke-width="0.55"/>
<line x1="359.5" y1="297.1" x2="360.9" y2="297.1" stroke="#3aaa35" stroke-width="0.65"/>
<line x1="359.5" y1="300.1" x2="360.9" y2="300.1" stroke="#3aaa35" stroke-width="0.65"/>
<rect x="359.44" y="297.84" width="1.52" height="1.52" fill="#3aaa35"/>
<line x1="369.8" y1="304.6" x2="369.8" y2="308.6" stroke="#3aaa35" stroke-width="0.55"/>
<line x1="369.1" y1="304.6" x2="370.5" y2="304.6" stroke="#3aaa35" stroke-width="0.65"/>
<line x1="369.1" y1="308.6" x2="370.5" y2="308.6" stroke="#3aaa35" stroke-width="0.65"/>
<rect x="369.04" y="305.84" width="1.52" height="1.52" fill="#3aaa35"/>
<line x1="379.3" y1="317.5" x2="379.3" y2="319.5" stroke="#3aaa35" stroke-width="0.55"/>
<line x1="378.6" y1="317.5" x2="380" y2="317.5" stroke="#3aaa35" stroke-width="0.65"/>
<line x1="378.6" y1="319.5" x2="380" y2="319.5" stroke="#3aaa35" stroke-width="0.65"/>
<rect x="378.54" y="317.74" width="1.52" height="1.52" fill="#3aaa35"/>
<line x1="331.1" y1="281.19" x2="331.1" y2="284.19" stroke="#3e4a63" stroke-width="0.55"/>
<line x1="330.4" y1="281.19" x2="331.8" y2="281.19" stroke="#3e4a63" stroke-width="0.65"/>
<line x1="330.4" y1="284.19" x2="331.8" y2="284.19" stroke="#3e4a63" stroke-width="0.65"/>
<circle cx="331.1" cy="282.69" r="0.76" fill="#3e4a63"/>
<line x1="340.6" y1="282.44" x2="340.6" y2="286.44" stroke="#3e4a63" stroke-width="0.55"/>
<line x1="339.9" y1="282.44" x2="341.3" y2="282.44" stroke="#3e4a63" stroke-width="0.65"/>
<line x1="339.9" y1="286.44" x2="341.3" y2="286.44" stroke="#3e4a63" stroke-width="0.65"/>
<circle cx="340.6" cy="284.44" r="0.76" fill="#3e4a63"/>
<line x1="350.7" y1="291.64" x2="350.7" y2="295.64" stroke="#3e4a63" stroke-width="0.55"/>
<line x1="350" y1="291.64" x2="351.4" y2="291.64" stroke="#3e4a63" stroke-width="0.65"/>
<line x1="350" y1="295.64" x2="351.4" y2="295.64" stroke="#3e4a63" stroke-width="0.65"/>
<circle cx="350.7" cy="293.64" r="0.76" fill="#3e4a63"/>
<line x1="360.2" y1="304.4" x2="360.2" y2="308" stroke="#3e4a63" stroke-width="0.55"/>
<line x1="359.5" y1="304.4" x2="360.9" y2="304.4" stroke="#3e4a63" stroke-width="0.65"/>
<line x1="359.5" y1="308" x2="360.9" y2="308" stroke="#3e4a63" stroke-width="0.65"/>
<circle cx="360.2" cy="306.2" r="0.76" fill="#3e4a63"/>
<line x1="369.8" y1="315.1" x2="369.8" y2="318.1" stroke="#3e4a63" stroke-width="0.55"/>
<line x1="369.1" y1="315.1" x2="370.5" y2="315.1" stroke="#3e4a63" stroke-width="0.65"/>
<line x1="369.1" y1="318.1" x2="370.5" y2="318.1" stroke="#3e4a63" stroke-width="0.65"/>
<circle cx="369.8" cy="316.6" r="0.76" fill="#3e4a63"/>
<line x1="379.3" y1="318.8" x2="379.3" y2="320.8" stroke="#3e4a63" stroke-width="0.55"/>
<line x1="378.6" y1="318.8" x2="380" y2="318.8" stroke="#3e4a63" stroke-width="0.65"/>
<line x1="378.6" y1="320.8" x2="380" y2="320.8" stroke="#3e4a63" stroke-width="0.65"/>
<circle cx="379.3" cy="319.8" r="0.76" fill="#3e4a63"/>
<line x1="357.8" y1="282.4" x2="363.4" y2="282.4" stroke="#3aaa35" stroke-width="0.9" stroke-dasharray="1 0.9"/>
<line x1="415.2" y1="266.5" x2="415.2" y2="322.8" stroke="#1a1a1a" stroke-width="1.1"/>
<line x1="414.7" y1="322.3" x2="450.6" y2="322.3" stroke="#1a1a1a" stroke-width="1.1"/>
<line x1="412.8" y1="322.3" x2="415.2" y2="322.3" stroke="#1a1a1a" stroke-width="0.8"/>
<text x="409" y="324.23" font-size="5.6" text-anchor="end" textLength="2.85" lengthAdjust="spacingAndGlyphs">0</text>
<line x1="412.8" y1="309" x2="415.2" y2="309" stroke="#1a1a1a" stroke-width="0.8"/>
<text x="409" y="310.93" font-size="5.6" text-anchor="end" textLength="8.55" lengthAdjust="spacingAndGlyphs">200</text>
<line x1="412.8" y1="295.7" x2="415.2" y2="295.7" stroke="#1a1a1a" stroke-width="0.8"/>
<text x="409" y="297.63" font-size="5.6" text-anchor="end" textLength="8.55" lengthAdjust="spacingAndGlyphs">400</text>
<line x1="412.8" y1="282.4" x2="415.2" y2="282.4" stroke="#1a1a1a" stroke-width="0.8"/>
<text x="409" y="284.33" font-size="5.6" text-anchor="end" textLength="8.55" lengthAdjust="spacingAndGlyphs">600</text>
<line x1="412.8" y1="269.1" x2="415.2" y2="269.1" stroke="#1a1a1a" stroke-width="0.8"/>
<text x="409" y="271.03" font-size="5.6" text-anchor="end" textLength="8.55" lengthAdjust="spacingAndGlyphs">800</text>
<line x1="418" y1="293.2" x2="451" y2="293.2" stroke="#111" stroke-width="0.85" stroke-dasharray="1.0 1.5"/>
<line x1="420.5" y1="291.38" x2="420.5" y2="293.37" stroke="#1a1a1a" stroke-width="0.85"/>
<line x1="419.3" y1="291.38" x2="421.7" y2="291.38" stroke="#1a1a1a" stroke-width="1"/>
<rect x="417.9" y="293.37" width="5.2" height="28.93" fill="#3e4a63"/>
<line x1="420.5" y1="322.3" x2="420.5" y2="324.6" stroke="#1a1a1a" stroke-width="0.8"/>
<text x="422.8" y="330.5" font-size="5.35" text-anchor="end" textLength="24.67" lengthAdjust="spacingAndGlyphs" transform="rotate(-45 422.8 330.5)">SU-DHL-8</text>
<line x1="428.6" y1="290.38" x2="428.6" y2="292.04" stroke="#1a1a1a" stroke-width="0.85"/>
<line x1="427.4" y1="290.38" x2="429.8" y2="290.38" stroke="#1a1a1a" stroke-width="1"/>
<rect x="426" y="292.04" width="5.2" height="30.26" fill="#3aaa35"/>
<line x1="428.6" y1="322.3" x2="428.6" y2="324.6" stroke="#1a1a1a" stroke-width="0.8"/>
<text x="430.9" y="330.5" font-size="5.35" text-anchor="end" textLength="35.68" lengthAdjust="spacingAndGlyphs" transform="rotate(-45 430.9 330.5)">SU-DHL-8 K51</text>
<line x1="436.6" y1="284.73" x2="436.6" y2="288.72" stroke="#1a1a1a" stroke-width="0.85"/>
<line x1="435.4" y1="284.73" x2="437.8" y2="284.73" stroke="#1a1a1a" stroke-width="1"/>
<rect x="434" y="288.72" width="5.2" height="33.58" fill="#cf0c32"/>
<line x1="436.6" y1="322.3" x2="436.6" y2="324.6" stroke="#1a1a1a" stroke-width="0.8"/>
<text x="438.9" y="330.5" font-size="5.35" text-anchor="end" textLength="35.68" lengthAdjust="spacingAndGlyphs" transform="rotate(-45 438.9 330.5)">SU-DHL-8 K65</text>
<line x1="444.8" y1="278.41" x2="444.8" y2="285.06" stroke="#1a1a1a" stroke-width="0.85"/>
<line x1="443.6" y1="278.41" x2="446" y2="278.41" stroke="#1a1a1a" stroke-width="1"/>
<rect x="442.2" y="285.06" width="5.2" height="37.24" fill="#1f4f8f"/>
<line x1="444.8" y1="322.3" x2="444.8" y2="324.6" stroke="#1a1a1a" stroke-width="0.8"/>
<text x="447.1" y="330.5" font-size="5.35" text-anchor="end" textLength="35.68" lengthAdjust="spacingAndGlyphs" transform="rotate(-45 447.1 330.5)">SU-DHL-8 K67</text>
<text x="393.6" y="297.19" font-size="7.8" text-anchor="middle" textLength="54.5" lengthAdjust="spacingAndGlyphs" transform="rotate(-90 393.6 294.5)">Area under the cruve</text>
<line x1="457.8" y1="281.4" x2="466.2" y2="281.4" stroke="#3e4a63" stroke-width="1"/>
<circle cx="462" cy="281.4" r="1.19" fill="#3e4a63"/>
<text x="469.1" y="283.12" font-size="5" textLength="43.6" lengthAdjust="spacingAndGlyphs" class="ns">SU-DHL-8 parental (-/-)</text>
<line x1="457.8" y1="290.4" x2="466.2" y2="290.4" stroke="#3aaa35" stroke-width="1" stroke-dasharray="2.1 0.9"/>
<rect x="460.81" y="289.21" width="2.38" height="2.38" fill="#3aaa35"/>
<text x="469.1" y="292.12" font-size="5" textLength="36.6" lengthAdjust="spacingAndGlyphs" class="ns">SU-DHL-8 K51 (-/+)</text>
<line x1="457.8" y1="299.4" x2="466.2" y2="299.4" stroke="#cf0c32" stroke-width="1" stroke-dasharray="2.1 0.9"/>
<path d="M460.5,298.27 L463.5,298.27 L462,300.9 Z" fill="#cf0c32"/>
<text x="469.1" y="301.12" font-size="5" textLength="36.6" lengthAdjust="spacingAndGlyphs" class="ns">SU-DHL-8 K65 (-/+)</text>
<line x1="457.8" y1="308.4" x2="466.2" y2="308.4" stroke="#1f4f8f" stroke-width="1" stroke-dasharray="2.1 0.9"/>
<path d="M462,306.9 L463.38,308.4 L462,309.9 L460.62,308.4 Z" fill="#1f4f8f"/>
<text x="469.1" y="310.12" font-size="5" textLength="36.6" lengthAdjust="spacingAndGlyphs" class="ns">SU-DHL-8 K67 (-/+)</text>
<rect x="0" y="0" width="520" height="1.5" fill="#000"/>
<rect x="0" y="0" width="1.3" height="364" fill="#000"/>
<rect x="518.8" y="0" width="1.2" height="364" fill="#000"/>
<rect x="0" y="362.3" width="520" height="1.7" fill="#000"/>
</svg></body></html>
